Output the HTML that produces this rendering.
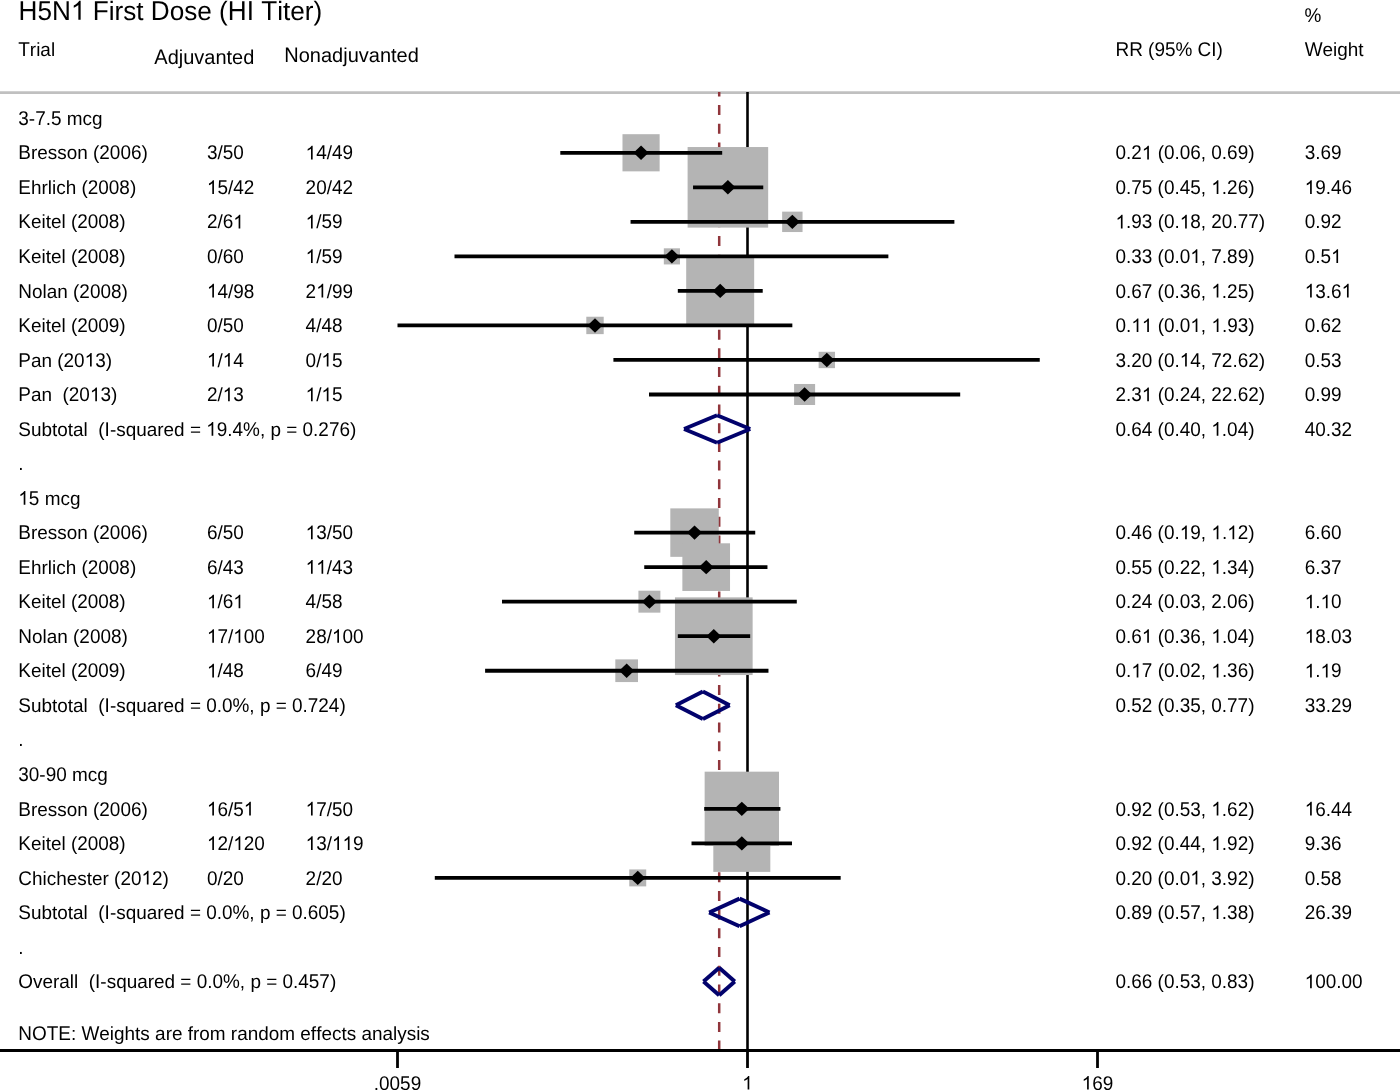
<!DOCTYPE html>
<html><head><meta charset="utf-8"><title>H5N1 First Dose (HI Titer)</title>
<style>
html,body{margin:0;padding:0;background:#fff;}
body{width:1400px;height:1090px;overflow:hidden;}
svg{display:block;will-change:transform;}
tspan.o{fill-opacity:0;}
text{font-family:"Liberation Sans",sans-serif;text-rendering:geometricPrecision;font-kerning:none;font-size:18.95px;fill:#000;white-space:pre;}
</style></head><body>
<svg width="1400" height="1090" viewBox="0 0 1400 1090">
<rect x="0" y="0" width="1400" height="1090" fill="#fff"/>

<line x1="0" y1="92.6" x2="1400" y2="92.6" stroke="#c0c0c0" stroke-width="2.6"/>
<line x1="747.5" y1="92" x2="747.5" y2="1050.5" stroke="#000" stroke-width="2.6"/>
<line x1="719.2" y1="92" x2="719.2" y2="1050" stroke="#90353b" stroke-width="2.5" stroke-dasharray="10 8.71" stroke-dashoffset="5.6"/>
<g fill="#b4b4b4">
<rect x="622.48" y="134.20" width="37.16" height="37.16"/>
<rect x="687.60" y="147.03" width="80.57" height="80.57"/>
<rect x="782.14" y="211.64" width="20.40" height="20.40"/>
<rect x="663.83" y="248.31" width="16.13" height="16.13"/>
<rect x="686.20" y="256.91" width="67.98" height="67.98"/>
<rect x="586.30" y="316.73" width="17.40" height="17.40"/>
<rect x="818.64" y="351.78" width="16.37" height="16.37"/>
<rect x="794.09" y="383.98" width="21.02" height="21.02"/>
<rect x="670.31" y="508.38" width="48.46" height="48.46"/>
<rect x="682.36" y="543.30" width="47.67" height="47.67"/>
<rect x="638.42" y="590.69" width="21.96" height="21.96"/>
<rect x="674.94" y="597.35" width="77.69" height="77.69"/>
<rect x="615.31" y="659.38" width="22.69" height="22.69"/>
<rect x="704.64" y="771.67" width="74.35" height="74.35"/>
<rect x="713.31" y="814.88" width="57.01" height="57.01"/>
<rect x="629.26" y="869.43" width="16.95" height="16.95"/>
</g>
<g stroke="#000" stroke-width="3.8">
<line x1="560.30" y1="152.78" x2="722.19" y2="152.78"/>
<line x1="693.04" y1="187.31" x2="763.26" y2="187.31"/>
<line x1="630.55" y1="221.84" x2="954.39" y2="221.84"/>
<line x1="454.50" y1="256.37" x2="888.37" y2="256.37"/>
<line x1="677.82" y1="290.90" x2="762.72" y2="290.90"/>
<line x1="397.50" y1="325.43" x2="792.34" y2="325.43"/>
<line x1="613.41" y1="359.96" x2="1039.75" y2="359.96"/>
<line x1="649.00" y1="394.49" x2="960.20" y2="394.49"/>
<line x1="634.24" y1="532.61" x2="755.23" y2="532.61"/>
<line x1="644.24" y1="567.14" x2="767.46" y2="567.14"/>
<line x1="502.00" y1="601.67" x2="796.79" y2="601.67"/>
<line x1="677.82" y1="636.20" x2="750.17" y2="636.20"/>
<line x1="485.10" y1="670.73" x2="768.47" y2="670.73"/>
<line x1="704.20" y1="808.85" x2="780.40" y2="808.85"/>
<line x1="691.51" y1="843.38" x2="791.99" y2="843.38"/>
<line x1="434.80" y1="877.91" x2="840.67" y2="877.91"/>
</g>
<g fill="#000">
<path d="M633.56 152.78L641.06 145.58L648.56 152.78L641.06 159.98Z"/>
<path d="M720.38 187.31L727.88 180.11L735.38 187.31L727.88 194.51Z"/>
<path d="M784.84 221.84L792.34 214.64L799.84 221.84L792.34 229.04Z"/>
<path d="M664.39 256.37L671.89 249.17L679.39 256.37L671.89 263.57Z"/>
<path d="M712.69 290.90L720.19 283.70L727.69 290.90L720.19 298.10Z"/>
<path d="M587.50 325.43L595.00 318.23L602.50 325.43L595.00 332.63Z"/>
<path d="M819.33 359.96L826.83 352.76L834.33 359.96L826.83 367.16Z"/>
<path d="M797.10 394.49L804.60 387.29L812.10 394.49L804.60 401.69Z"/>
<path d="M687.04 532.61L694.54 525.41L702.04 532.61L694.54 539.81Z"/>
<path d="M698.70 567.14L706.20 559.94L713.70 567.14L706.20 574.34Z"/>
<path d="M641.90 601.67L649.40 594.47L656.90 601.67L649.40 608.87Z"/>
<path d="M706.29 636.20L713.79 629.00L721.29 636.20L713.79 643.40Z"/>
<path d="M619.15 670.73L626.65 663.53L634.15 670.73L626.65 677.93Z"/>
<path d="M734.31 808.85L741.81 801.65L749.31 808.85L741.81 816.05Z"/>
<path d="M734.31 843.38L741.81 836.18L749.31 843.38L741.81 850.58Z"/>
<path d="M630.24 877.91L637.74 870.71L645.24 877.91L637.74 885.11Z"/>
</g>
<g stroke="#02026c" stroke-width="3.9" fill="none" stroke-linecap="butt">
<line x1="684.05" y1="429.02" x2="717.06" y2="415.22"/>
<line x1="717.06" y1="415.22" x2="750.17" y2="429.02"/>
<line x1="750.17" y1="429.02" x2="717.06" y2="442.82"/>
<line x1="717.06" y1="442.82" x2="684.05" y2="429.02"/>
<line x1="675.90" y1="705.26" x2="702.90" y2="691.46"/>
<line x1="702.90" y1="691.46" x2="729.67" y2="705.26"/>
<line x1="729.67" y1="705.26" x2="702.90" y2="719.06"/>
<line x1="702.90" y1="719.06" x2="675.90" y2="705.26"/>
<line x1="709.16" y1="912.44" x2="739.55" y2="898.64"/>
<line x1="739.55" y1="898.64" x2="769.47" y2="912.44"/>
<line x1="769.47" y1="912.44" x2="739.55" y2="926.24"/>
<line x1="739.55" y1="926.24" x2="709.16" y2="912.44"/>
<line x1="703.50" y1="981.50" x2="719.16" y2="967.70"/>
<line x1="719.16" y1="967.70" x2="734.79" y2="981.50"/>
<line x1="734.79" y1="981.50" x2="719.16" y2="995.30"/>
<line x1="719.16" y1="995.30" x2="703.50" y2="981.50"/>
</g>
<line x1="0" y1="1050.5" x2="1400" y2="1050.5" stroke="#000" stroke-width="2.8"/>
<line x1="397.5" y1="1050" x2="397.5" y2="1068" stroke="#000" stroke-width="2.8"/>
<line x1="747.5" y1="1050" x2="747.5" y2="1068" stroke="#000" stroke-width="2.8"/>
<line x1="1097.5" y1="1050" x2="1097.5" y2="1068" stroke="#000" stroke-width="2.8"/>
<text transform="translate(0 19.70)" style="font-size:26.15px"><tspan x="18.60" style="font-size:27.457px" textLength="66.84" lengthAdjust="spacingAndGlyphs">H5N<tspan class="o">1</tspan></tspan><tspan x="85.44"> </tspan><tspan x="92.69" style="font-size:27.457px" textLength="15.98" lengthAdjust="spacingAndGlyphs">F</tspan><tspan x="108.66" style="font-size:26.412px" textLength="42.12" lengthAdjust="spacingAndGlyphs">irst </tspan><tspan x="150.77" style="font-size:27.457px" textLength="18.89" lengthAdjust="spacingAndGlyphs">D</tspan><tspan x="169.65" style="font-size:26.412px" textLength="58.14" lengthAdjust="spacingAndGlyphs">ose (</tspan><tspan x="227.77" style="font-size:27.457px" textLength="26.16" lengthAdjust="spacingAndGlyphs">HI</tspan><tspan x="253.91"> </tspan><tspan x="261.18" style="font-size:27.457px" textLength="15.97" lengthAdjust="spacingAndGlyphs">T</tspan><tspan x="277.13" style="font-size:26.412px" textLength="45.05" lengthAdjust="spacingAndGlyphs">iter)</tspan></text>
<text transform="translate(0 21.60)"><tspan x="1304.50" style="font-size:19.898px" textLength="16.84" lengthAdjust="spacingAndGlyphs">%</tspan></text>
<text transform="translate(0 56.10)"><tspan x="18.30" style="font-size:19.898px" textLength="11.58" lengthAdjust="spacingAndGlyphs">T</tspan><tspan x="29.86" style="font-size:19.139px" textLength="25.27" lengthAdjust="spacingAndGlyphs">rial</tspan></text>
<text transform="translate(0 63.60)" style="font-size:20px"><tspan x="154.30" style="font-size:21.000px" textLength="13.34" lengthAdjust="spacingAndGlyphs">A</tspan><tspan x="167.63" style="font-size:20.200px" textLength="86.75" lengthAdjust="spacingAndGlyphs">djuvanted</tspan></text>
<text transform="translate(0 61.90)" style="font-size:20px"><tspan x="284.30" style="font-size:21.000px" textLength="14.45" lengthAdjust="spacingAndGlyphs">N</tspan><tspan x="298.74" style="font-size:20.200px" textLength="120.12" lengthAdjust="spacingAndGlyphs">onadjuvanted</tspan></text>
<text transform="translate(0 56.00)"><tspan x="1115.50" style="font-size:19.898px" textLength="27.36" lengthAdjust="spacingAndGlyphs">RR</tspan><tspan x="1142.84" style="font-size:19.139px" textLength="11.58" lengthAdjust="spacingAndGlyphs"> (</tspan><tspan x="1154.41" style="font-size:19.898px" textLength="37.92" lengthAdjust="spacingAndGlyphs">95%</tspan><tspan x="1192.31"> </tspan><tspan x="1197.58" style="font-size:19.898px" textLength="18.95" lengthAdjust="spacingAndGlyphs">CI</tspan><tspan x="1216.52" style="font-size:19.139px" textLength="6.31" lengthAdjust="spacingAndGlyphs">)</tspan></text>
<text transform="translate(0 56.00)"><tspan x="1304.70" style="font-size:19.898px" textLength="17.88" lengthAdjust="spacingAndGlyphs">W</tspan><tspan x="1322.56" style="font-size:19.139px" textLength="41.09" lengthAdjust="spacingAndGlyphs">eight</tspan></text>
<text transform="translate(0 124.90)"><tspan x="18.30" style="font-size:19.898px" textLength="10.55" lengthAdjust="spacingAndGlyphs">3</tspan><tspan x="28.83" style="font-size:19.139px" textLength="6.31" lengthAdjust="spacingAndGlyphs">-</tspan><tspan x="35.13" style="font-size:19.898px" textLength="10.55" lengthAdjust="spacingAndGlyphs">7</tspan><tspan x="45.66" style="font-size:19.139px" textLength="5.28" lengthAdjust="spacingAndGlyphs">.</tspan><tspan x="50.92" style="font-size:19.898px" textLength="10.55" lengthAdjust="spacingAndGlyphs">5</tspan><tspan x="61.46" style="font-size:19.139px" textLength="41.05" lengthAdjust="spacingAndGlyphs"> mcg</tspan></text>
<text transform="translate(0 504.73)"><tspan x="18.30" style="font-size:19.898px" textLength="21.09" lengthAdjust="spacingAndGlyphs"><tspan class="o">1</tspan>5</tspan><tspan x="39.38" style="font-size:19.139px" textLength="41.05" lengthAdjust="spacingAndGlyphs"> mcg</tspan></text>
<text transform="translate(0 780.97)"><tspan x="18.30" style="font-size:19.898px" textLength="21.08" lengthAdjust="spacingAndGlyphs">30</tspan><tspan x="39.36" style="font-size:19.139px" textLength="6.31" lengthAdjust="spacingAndGlyphs">-</tspan><tspan x="45.66" style="font-size:19.898px" textLength="21.08" lengthAdjust="spacingAndGlyphs">90</tspan><tspan x="66.72" style="font-size:19.139px" textLength="41.06" lengthAdjust="spacingAndGlyphs"> mcg</tspan></text>
<text transform="translate(0 470.20)"><tspan x="18.30" style="font-size:19.139px" textLength="5.27" lengthAdjust="spacingAndGlyphs">.</tspan></text>
<text transform="translate(0 746.44)"><tspan x="18.30" style="font-size:19.139px" textLength="5.27" lengthAdjust="spacingAndGlyphs">.</tspan></text>
<text transform="translate(0 953.62)"><tspan x="18.30" style="font-size:19.139px" textLength="5.27" lengthAdjust="spacingAndGlyphs">.</tspan></text>
<text transform="translate(0 159.43)"><tspan x="18.30" style="font-size:19.898px" textLength="12.64" lengthAdjust="spacingAndGlyphs">B</tspan><tspan x="30.93" style="font-size:19.139px" textLength="68.42" lengthAdjust="spacingAndGlyphs">resson (</tspan><tspan x="99.33" style="font-size:19.898px" textLength="42.14" lengthAdjust="spacingAndGlyphs">2006</tspan><tspan x="141.46" style="font-size:19.139px" textLength="6.33" lengthAdjust="spacingAndGlyphs">)</tspan></text>
<text transform="translate(0 159.43)"><tspan x="206.90" style="font-size:19.898px" textLength="10.55" lengthAdjust="spacingAndGlyphs">3</tspan><tspan x="217.43" style="font-size:19.139px" textLength="5.27" lengthAdjust="spacingAndGlyphs">/</tspan><tspan x="222.68" style="font-size:19.898px" textLength="21.08" lengthAdjust="spacingAndGlyphs">50</tspan></text>
<text transform="translate(0 159.43)"><tspan x="305.60" style="font-size:19.898px" textLength="21.09" lengthAdjust="spacingAndGlyphs"><tspan class="o">1</tspan>4</tspan><tspan x="326.68" style="font-size:19.139px" textLength="5.27" lengthAdjust="spacingAndGlyphs">/</tspan><tspan x="331.93" style="font-size:19.898px" textLength="21.08" lengthAdjust="spacingAndGlyphs">49</tspan></text>
<text transform="translate(0 159.43)"><tspan x="1115.50" style="font-size:19.898px" textLength="10.55" lengthAdjust="spacingAndGlyphs">0</tspan><tspan x="1126.03" style="font-size:19.139px" textLength="5.27" lengthAdjust="spacingAndGlyphs">.</tspan><tspan x="1131.28" style="font-size:19.898px" textLength="21.09" lengthAdjust="spacingAndGlyphs">2<tspan class="o">1</tspan></tspan><tspan x="1152.38" style="font-size:19.139px" textLength="11.58" lengthAdjust="spacingAndGlyphs"> (</tspan><tspan x="1163.94" style="font-size:19.898px" textLength="10.55" lengthAdjust="spacingAndGlyphs">0</tspan><tspan x="1174.47" style="font-size:19.139px" textLength="5.28" lengthAdjust="spacingAndGlyphs">.</tspan><tspan x="1179.73" style="font-size:19.898px" textLength="21.08" lengthAdjust="spacingAndGlyphs">06</tspan><tspan x="1200.80" style="font-size:19.139px" textLength="10.53" lengthAdjust="spacingAndGlyphs">, </tspan><tspan x="1211.31" style="font-size:19.898px" textLength="10.55" lengthAdjust="spacingAndGlyphs">0</tspan><tspan x="1221.84" style="font-size:19.139px" textLength="5.28" lengthAdjust="spacingAndGlyphs">.</tspan><tspan x="1227.11" style="font-size:19.898px" textLength="21.08" lengthAdjust="spacingAndGlyphs">69</tspan><tspan x="1248.17" style="font-size:19.139px" textLength="6.33" lengthAdjust="spacingAndGlyphs">)</tspan></text>
<text transform="translate(0 159.43)"><tspan x="1304.70" style="font-size:19.898px" textLength="10.55" lengthAdjust="spacingAndGlyphs">3</tspan><tspan x="1315.23" style="font-size:19.139px" textLength="5.27" lengthAdjust="spacingAndGlyphs">.</tspan><tspan x="1320.48" style="font-size:19.898px" textLength="21.08" lengthAdjust="spacingAndGlyphs">69</tspan></text>
<text transform="translate(0 193.96)"><tspan x="18.30" style="font-size:19.898px" textLength="12.64" lengthAdjust="spacingAndGlyphs">E</tspan><tspan x="30.93" style="font-size:19.139px" textLength="56.83" lengthAdjust="spacingAndGlyphs">hrlich (</tspan><tspan x="87.74" style="font-size:19.898px" textLength="42.16" lengthAdjust="spacingAndGlyphs">2008</tspan><tspan x="129.88" style="font-size:19.139px" textLength="6.31" lengthAdjust="spacingAndGlyphs">)</tspan></text>
<text transform="translate(0 193.96)"><tspan x="206.90" style="font-size:19.898px" textLength="21.09" lengthAdjust="spacingAndGlyphs"><tspan class="o">1</tspan>5</tspan><tspan x="227.98" style="font-size:19.139px" textLength="5.27" lengthAdjust="spacingAndGlyphs">/</tspan><tspan x="233.23" style="font-size:19.898px" textLength="21.08" lengthAdjust="spacingAndGlyphs">42</tspan></text>
<text transform="translate(0 193.96)"><tspan x="305.60" style="font-size:19.898px" textLength="21.08" lengthAdjust="spacingAndGlyphs">20</tspan><tspan x="326.66" style="font-size:19.139px" textLength="5.27" lengthAdjust="spacingAndGlyphs">/</tspan><tspan x="331.91" style="font-size:19.898px" textLength="21.08" lengthAdjust="spacingAndGlyphs">42</tspan></text>
<text transform="translate(0 193.96)"><tspan x="1115.50" style="font-size:19.898px" textLength="10.55" lengthAdjust="spacingAndGlyphs">0</tspan><tspan x="1126.03" style="font-size:19.139px" textLength="5.27" lengthAdjust="spacingAndGlyphs">.</tspan><tspan x="1131.28" style="font-size:19.898px" textLength="21.08" lengthAdjust="spacingAndGlyphs">75</tspan><tspan x="1152.34" style="font-size:19.139px" textLength="11.59" lengthAdjust="spacingAndGlyphs"> (</tspan><tspan x="1163.92" style="font-size:19.898px" textLength="10.55" lengthAdjust="spacingAndGlyphs">0</tspan><tspan x="1174.45" style="font-size:19.139px" textLength="5.28" lengthAdjust="spacingAndGlyphs">.</tspan><tspan x="1179.72" style="font-size:19.898px" textLength="21.08" lengthAdjust="spacingAndGlyphs">45</tspan><tspan x="1200.78" style="font-size:19.139px" textLength="10.53" lengthAdjust="spacingAndGlyphs">, </tspan><tspan x="1211.31" style="font-size:19.898px" textLength="10.55" lengthAdjust="spacingAndGlyphs"><tspan class="o">1</tspan></tspan><tspan x="1221.86" style="font-size:19.139px" textLength="5.27" lengthAdjust="spacingAndGlyphs">.</tspan><tspan x="1227.11" style="font-size:19.898px" textLength="21.08" lengthAdjust="spacingAndGlyphs">26</tspan><tspan x="1248.17" style="font-size:19.139px" textLength="6.33" lengthAdjust="spacingAndGlyphs">)</tspan></text>
<text transform="translate(0 193.96)"><tspan x="1304.70" style="font-size:19.898px" textLength="21.09" lengthAdjust="spacingAndGlyphs"><tspan class="o">1</tspan>9</tspan><tspan x="1325.78" style="font-size:19.139px" textLength="5.27" lengthAdjust="spacingAndGlyphs">.</tspan><tspan x="1331.03" style="font-size:19.898px" textLength="21.08" lengthAdjust="spacingAndGlyphs">46</tspan></text>
<text transform="translate(0 228.49)"><tspan x="18.30" style="font-size:19.898px" textLength="12.64" lengthAdjust="spacingAndGlyphs">K</tspan><tspan x="30.93" style="font-size:19.139px" textLength="46.33" lengthAdjust="spacingAndGlyphs">eitel (</tspan><tspan x="77.24" style="font-size:19.898px" textLength="42.14" lengthAdjust="spacingAndGlyphs">2008</tspan><tspan x="119.36" style="font-size:19.139px" textLength="6.31" lengthAdjust="spacingAndGlyphs">)</tspan></text>
<text transform="translate(0 228.49)"><tspan x="206.90" style="font-size:19.898px" textLength="10.55" lengthAdjust="spacingAndGlyphs">2</tspan><tspan x="217.43" style="font-size:19.139px" textLength="5.27" lengthAdjust="spacingAndGlyphs">/</tspan><tspan x="222.68" style="font-size:19.898px" textLength="21.09" lengthAdjust="spacingAndGlyphs">6<tspan class="o">1</tspan></tspan></text>
<text transform="translate(0 228.49)"><tspan x="305.60" style="font-size:19.898px" textLength="10.55" lengthAdjust="spacingAndGlyphs"><tspan class="o">1</tspan></tspan><tspan x="316.15" style="font-size:19.139px" textLength="5.27" lengthAdjust="spacingAndGlyphs">/</tspan><tspan x="321.40" style="font-size:19.898px" textLength="21.08" lengthAdjust="spacingAndGlyphs">59</tspan></text>
<text transform="translate(0 228.49)"><tspan x="1115.50" style="font-size:19.898px" textLength="10.55" lengthAdjust="spacingAndGlyphs"><tspan class="o">1</tspan></tspan><tspan x="1126.05" style="font-size:19.139px" textLength="5.27" lengthAdjust="spacingAndGlyphs">.</tspan><tspan x="1131.30" style="font-size:19.898px" textLength="21.08" lengthAdjust="spacingAndGlyphs">93</tspan><tspan x="1152.36" style="font-size:19.139px" textLength="11.59" lengthAdjust="spacingAndGlyphs"> (</tspan><tspan x="1163.94" style="font-size:19.898px" textLength="10.55" lengthAdjust="spacingAndGlyphs">0</tspan><tspan x="1174.47" style="font-size:19.139px" textLength="5.27" lengthAdjust="spacingAndGlyphs">.</tspan><tspan x="1179.73" style="font-size:19.898px" textLength="21.09" lengthAdjust="spacingAndGlyphs"><tspan class="o">1</tspan>8</tspan><tspan x="1200.81" style="font-size:19.139px" textLength="10.53" lengthAdjust="spacingAndGlyphs">, </tspan><tspan x="1211.33" style="font-size:19.898px" textLength="21.08" lengthAdjust="spacingAndGlyphs">20</tspan><tspan x="1232.39" style="font-size:19.139px" textLength="5.28" lengthAdjust="spacingAndGlyphs">.</tspan><tspan x="1237.66" style="font-size:19.898px" textLength="21.08" lengthAdjust="spacingAndGlyphs">77</tspan><tspan x="1258.72" style="font-size:19.139px" textLength="6.33" lengthAdjust="spacingAndGlyphs">)</tspan></text>
<text transform="translate(0 228.49)"><tspan x="1304.70" style="font-size:19.898px" textLength="10.55" lengthAdjust="spacingAndGlyphs">0</tspan><tspan x="1315.23" style="font-size:19.139px" textLength="5.27" lengthAdjust="spacingAndGlyphs">.</tspan><tspan x="1320.48" style="font-size:19.898px" textLength="21.08" lengthAdjust="spacingAndGlyphs">92</tspan></text>
<text transform="translate(0 263.02)"><tspan x="18.30" style="font-size:19.898px" textLength="12.64" lengthAdjust="spacingAndGlyphs">K</tspan><tspan x="30.93" style="font-size:19.139px" textLength="46.33" lengthAdjust="spacingAndGlyphs">eitel (</tspan><tspan x="77.24" style="font-size:19.898px" textLength="42.14" lengthAdjust="spacingAndGlyphs">2008</tspan><tspan x="119.36" style="font-size:19.139px" textLength="6.31" lengthAdjust="spacingAndGlyphs">)</tspan></text>
<text transform="translate(0 263.02)"><tspan x="206.90" style="font-size:19.898px" textLength="10.55" lengthAdjust="spacingAndGlyphs">0</tspan><tspan x="217.43" style="font-size:19.139px" textLength="5.27" lengthAdjust="spacingAndGlyphs">/</tspan><tspan x="222.68" style="font-size:19.898px" textLength="21.08" lengthAdjust="spacingAndGlyphs">60</tspan></text>
<text transform="translate(0 263.02)"><tspan x="305.60" style="font-size:19.898px" textLength="10.55" lengthAdjust="spacingAndGlyphs"><tspan class="o">1</tspan></tspan><tspan x="316.15" style="font-size:19.139px" textLength="5.27" lengthAdjust="spacingAndGlyphs">/</tspan><tspan x="321.40" style="font-size:19.898px" textLength="21.08" lengthAdjust="spacingAndGlyphs">59</tspan></text>
<text transform="translate(0 263.02)"><tspan x="1115.50" style="font-size:19.898px" textLength="10.55" lengthAdjust="spacingAndGlyphs">0</tspan><tspan x="1126.03" style="font-size:19.139px" textLength="5.27" lengthAdjust="spacingAndGlyphs">.</tspan><tspan x="1131.28" style="font-size:19.898px" textLength="21.08" lengthAdjust="spacingAndGlyphs">33</tspan><tspan x="1152.34" style="font-size:19.139px" textLength="11.59" lengthAdjust="spacingAndGlyphs"> (</tspan><tspan x="1163.92" style="font-size:19.898px" textLength="10.55" lengthAdjust="spacingAndGlyphs">0</tspan><tspan x="1174.45" style="font-size:19.139px" textLength="5.28" lengthAdjust="spacingAndGlyphs">.</tspan><tspan x="1179.72" style="font-size:19.898px" textLength="21.09" lengthAdjust="spacingAndGlyphs">0<tspan class="o">1</tspan></tspan><tspan x="1200.81" style="font-size:19.139px" textLength="10.53" lengthAdjust="spacingAndGlyphs">, </tspan><tspan x="1211.33" style="font-size:19.898px" textLength="10.55" lengthAdjust="spacingAndGlyphs">7</tspan><tspan x="1221.86" style="font-size:19.139px" textLength="5.28" lengthAdjust="spacingAndGlyphs">.</tspan><tspan x="1227.12" style="font-size:19.898px" textLength="21.08" lengthAdjust="spacingAndGlyphs">89</tspan><tspan x="1248.19" style="font-size:19.139px" textLength="6.31" lengthAdjust="spacingAndGlyphs">)</tspan></text>
<text transform="translate(0 263.02)"><tspan x="1304.70" style="font-size:19.898px" textLength="10.55" lengthAdjust="spacingAndGlyphs">0</tspan><tspan x="1315.23" style="font-size:19.139px" textLength="5.27" lengthAdjust="spacingAndGlyphs">.</tspan><tspan x="1320.48" style="font-size:19.898px" textLength="21.09" lengthAdjust="spacingAndGlyphs">5<tspan class="o">1</tspan></tspan></text>
<text transform="translate(0 297.55)"><tspan x="18.30" style="font-size:19.898px" textLength="13.69" lengthAdjust="spacingAndGlyphs">N</tspan><tspan x="31.97" style="font-size:19.139px" textLength="47.39" lengthAdjust="spacingAndGlyphs">olan (</tspan><tspan x="79.35" style="font-size:19.898px" textLength="42.14" lengthAdjust="spacingAndGlyphs">2008</tspan><tspan x="121.47" style="font-size:19.139px" textLength="6.31" lengthAdjust="spacingAndGlyphs">)</tspan></text>
<text transform="translate(0 297.55)"><tspan x="206.90" style="font-size:19.898px" textLength="21.09" lengthAdjust="spacingAndGlyphs"><tspan class="o">1</tspan>4</tspan><tspan x="227.98" style="font-size:19.139px" textLength="5.27" lengthAdjust="spacingAndGlyphs">/</tspan><tspan x="233.23" style="font-size:19.898px" textLength="21.08" lengthAdjust="spacingAndGlyphs">98</tspan></text>
<text transform="translate(0 297.55)"><tspan x="305.60" style="font-size:19.898px" textLength="21.09" lengthAdjust="spacingAndGlyphs">2<tspan class="o">1</tspan></tspan><tspan x="326.69" style="font-size:19.139px" textLength="5.27" lengthAdjust="spacingAndGlyphs">/</tspan><tspan x="331.94" style="font-size:19.898px" textLength="21.08" lengthAdjust="spacingAndGlyphs">99</tspan></text>
<text transform="translate(0 297.55)"><tspan x="1115.50" style="font-size:19.898px" textLength="10.55" lengthAdjust="spacingAndGlyphs">0</tspan><tspan x="1126.03" style="font-size:19.139px" textLength="5.27" lengthAdjust="spacingAndGlyphs">.</tspan><tspan x="1131.28" style="font-size:19.898px" textLength="21.08" lengthAdjust="spacingAndGlyphs">67</tspan><tspan x="1152.34" style="font-size:19.139px" textLength="11.59" lengthAdjust="spacingAndGlyphs"> (</tspan><tspan x="1163.92" style="font-size:19.898px" textLength="10.55" lengthAdjust="spacingAndGlyphs">0</tspan><tspan x="1174.45" style="font-size:19.139px" textLength="5.28" lengthAdjust="spacingAndGlyphs">.</tspan><tspan x="1179.72" style="font-size:19.898px" textLength="21.08" lengthAdjust="spacingAndGlyphs">36</tspan><tspan x="1200.78" style="font-size:19.139px" textLength="10.53" lengthAdjust="spacingAndGlyphs">, </tspan><tspan x="1211.31" style="font-size:19.898px" textLength="10.55" lengthAdjust="spacingAndGlyphs"><tspan class="o">1</tspan></tspan><tspan x="1221.86" style="font-size:19.139px" textLength="5.27" lengthAdjust="spacingAndGlyphs">.</tspan><tspan x="1227.11" style="font-size:19.898px" textLength="21.08" lengthAdjust="spacingAndGlyphs">25</tspan><tspan x="1248.17" style="font-size:19.139px" textLength="6.33" lengthAdjust="spacingAndGlyphs">)</tspan></text>
<text transform="translate(0 297.55)"><tspan x="1304.70" style="font-size:19.898px" textLength="21.09" lengthAdjust="spacingAndGlyphs"><tspan class="o">1</tspan>3</tspan><tspan x="1325.78" style="font-size:19.139px" textLength="5.27" lengthAdjust="spacingAndGlyphs">.</tspan><tspan x="1331.03" style="font-size:19.898px" textLength="21.09" lengthAdjust="spacingAndGlyphs">6<tspan class="o">1</tspan></tspan></text>
<text transform="translate(0 332.08)"><tspan x="18.30" style="font-size:19.898px" textLength="12.64" lengthAdjust="spacingAndGlyphs">K</tspan><tspan x="30.93" style="font-size:19.139px" textLength="46.33" lengthAdjust="spacingAndGlyphs">eitel (</tspan><tspan x="77.24" style="font-size:19.898px" textLength="42.14" lengthAdjust="spacingAndGlyphs">2009</tspan><tspan x="119.36" style="font-size:19.139px" textLength="6.31" lengthAdjust="spacingAndGlyphs">)</tspan></text>
<text transform="translate(0 332.08)"><tspan x="206.90" style="font-size:19.898px" textLength="10.55" lengthAdjust="spacingAndGlyphs">0</tspan><tspan x="217.43" style="font-size:19.139px" textLength="5.27" lengthAdjust="spacingAndGlyphs">/</tspan><tspan x="222.68" style="font-size:19.898px" textLength="21.08" lengthAdjust="spacingAndGlyphs">50</tspan></text>
<text transform="translate(0 332.08)"><tspan x="305.60" style="font-size:19.898px" textLength="10.55" lengthAdjust="spacingAndGlyphs">4</tspan><tspan x="316.13" style="font-size:19.139px" textLength="5.27" lengthAdjust="spacingAndGlyphs">/</tspan><tspan x="321.38" style="font-size:19.898px" textLength="21.08" lengthAdjust="spacingAndGlyphs">48</tspan></text>
<text transform="translate(0 332.08)"><tspan x="1115.50" style="font-size:19.898px" textLength="10.55" lengthAdjust="spacingAndGlyphs">0</tspan><tspan x="1126.03" style="font-size:19.139px" textLength="5.27" lengthAdjust="spacingAndGlyphs">.</tspan><tspan x="1131.30" style="font-size:19.898px" textLength="21.09" lengthAdjust="spacingAndGlyphs"><tspan class="o">1</tspan><tspan class="o">1</tspan></tspan><tspan x="1152.39" style="font-size:19.139px" textLength="11.58" lengthAdjust="spacingAndGlyphs"> (</tspan><tspan x="1163.95" style="font-size:19.898px" textLength="10.55" lengthAdjust="spacingAndGlyphs">0</tspan><tspan x="1174.48" style="font-size:19.139px" textLength="5.28" lengthAdjust="spacingAndGlyphs">.</tspan><tspan x="1179.75" style="font-size:19.898px" textLength="21.09" lengthAdjust="spacingAndGlyphs">0<tspan class="o">1</tspan></tspan><tspan x="1200.84" style="font-size:19.139px" textLength="10.53" lengthAdjust="spacingAndGlyphs">, </tspan><tspan x="1211.38" style="font-size:19.898px" textLength="10.55" lengthAdjust="spacingAndGlyphs"><tspan class="o">1</tspan></tspan><tspan x="1221.92" style="font-size:19.139px" textLength="5.27" lengthAdjust="spacingAndGlyphs">.</tspan><tspan x="1227.17" style="font-size:19.898px" textLength="21.08" lengthAdjust="spacingAndGlyphs">93</tspan><tspan x="1248.23" style="font-size:19.139px" textLength="6.33" lengthAdjust="spacingAndGlyphs">)</tspan></text>
<text transform="translate(0 332.08)"><tspan x="1304.70" style="font-size:19.898px" textLength="10.55" lengthAdjust="spacingAndGlyphs">0</tspan><tspan x="1315.23" style="font-size:19.139px" textLength="5.27" lengthAdjust="spacingAndGlyphs">.</tspan><tspan x="1320.48" style="font-size:19.898px" textLength="21.08" lengthAdjust="spacingAndGlyphs">62</tspan></text>
<text transform="translate(0 366.61)"><tspan x="18.30" style="font-size:19.898px" textLength="12.64" lengthAdjust="spacingAndGlyphs">P</tspan><tspan x="30.93" style="font-size:19.139px" textLength="32.64" lengthAdjust="spacingAndGlyphs">an (</tspan><tspan x="63.55" style="font-size:19.898px" textLength="42.17" lengthAdjust="spacingAndGlyphs">20<tspan class="o">1</tspan>3</tspan><tspan x="105.71" style="font-size:19.139px" textLength="6.31" lengthAdjust="spacingAndGlyphs">)</tspan></text>
<text transform="translate(0 366.61)"><tspan x="206.90" style="font-size:19.898px" textLength="10.55" lengthAdjust="spacingAndGlyphs"><tspan class="o">1</tspan></tspan><tspan x="217.45" style="font-size:19.139px" textLength="5.27" lengthAdjust="spacingAndGlyphs">/</tspan><tspan x="222.71" style="font-size:19.898px" textLength="21.09" lengthAdjust="spacingAndGlyphs"><tspan class="o">1</tspan>4</tspan></text>
<text transform="translate(0 366.61)"><tspan x="305.60" style="font-size:19.898px" textLength="10.55" lengthAdjust="spacingAndGlyphs">0</tspan><tspan x="316.13" style="font-size:19.139px" textLength="5.27" lengthAdjust="spacingAndGlyphs">/</tspan><tspan x="321.40" style="font-size:19.898px" textLength="21.09" lengthAdjust="spacingAndGlyphs"><tspan class="o">1</tspan>5</tspan></text>
<text transform="translate(0 366.61)"><tspan x="1115.50" style="font-size:19.898px" textLength="10.55" lengthAdjust="spacingAndGlyphs">3</tspan><tspan x="1126.03" style="font-size:19.139px" textLength="5.27" lengthAdjust="spacingAndGlyphs">.</tspan><tspan x="1131.28" style="font-size:19.898px" textLength="21.08" lengthAdjust="spacingAndGlyphs">20</tspan><tspan x="1152.34" style="font-size:19.139px" textLength="11.59" lengthAdjust="spacingAndGlyphs"> (</tspan><tspan x="1163.92" style="font-size:19.898px" textLength="10.55" lengthAdjust="spacingAndGlyphs">0</tspan><tspan x="1174.45" style="font-size:19.139px" textLength="5.28" lengthAdjust="spacingAndGlyphs">.</tspan><tspan x="1179.73" style="font-size:19.898px" textLength="21.09" lengthAdjust="spacingAndGlyphs"><tspan class="o">1</tspan>4</tspan><tspan x="1200.81" style="font-size:19.139px" textLength="10.53" lengthAdjust="spacingAndGlyphs">, </tspan><tspan x="1211.33" style="font-size:19.898px" textLength="21.08" lengthAdjust="spacingAndGlyphs">72</tspan><tspan x="1232.39" style="font-size:19.139px" textLength="5.28" lengthAdjust="spacingAndGlyphs">.</tspan><tspan x="1237.66" style="font-size:19.898px" textLength="21.08" lengthAdjust="spacingAndGlyphs">62</tspan><tspan x="1258.72" style="font-size:19.139px" textLength="6.33" lengthAdjust="spacingAndGlyphs">)</tspan></text>
<text transform="translate(0 366.61)"><tspan x="1304.70" style="font-size:19.898px" textLength="10.55" lengthAdjust="spacingAndGlyphs">0</tspan><tspan x="1315.23" style="font-size:19.139px" textLength="5.27" lengthAdjust="spacingAndGlyphs">.</tspan><tspan x="1320.48" style="font-size:19.898px" textLength="21.08" lengthAdjust="spacingAndGlyphs">53</tspan></text>
<text transform="translate(0 401.14)"><tspan x="18.30" style="font-size:19.898px" textLength="12.64" lengthAdjust="spacingAndGlyphs">P</tspan><tspan x="30.93" style="font-size:19.139px" textLength="37.91" lengthAdjust="spacingAndGlyphs">an  (</tspan><tspan x="68.82" style="font-size:19.898px" textLength="42.17" lengthAdjust="spacingAndGlyphs">20<tspan class="o">1</tspan>3</tspan><tspan x="110.97" style="font-size:19.139px" textLength="6.31" lengthAdjust="spacingAndGlyphs">)</tspan></text>
<text transform="translate(0 401.14)"><tspan x="206.90" style="font-size:19.898px" textLength="10.55" lengthAdjust="spacingAndGlyphs">2</tspan><tspan x="217.43" style="font-size:19.139px" textLength="5.27" lengthAdjust="spacingAndGlyphs">/</tspan><tspan x="222.70" style="font-size:19.898px" textLength="21.09" lengthAdjust="spacingAndGlyphs"><tspan class="o">1</tspan>3</tspan></text>
<text transform="translate(0 401.14)"><tspan x="305.60" style="font-size:19.898px" textLength="10.55" lengthAdjust="spacingAndGlyphs"><tspan class="o">1</tspan></tspan><tspan x="316.15" style="font-size:19.139px" textLength="5.27" lengthAdjust="spacingAndGlyphs">/</tspan><tspan x="321.41" style="font-size:19.898px" textLength="21.09" lengthAdjust="spacingAndGlyphs"><tspan class="o">1</tspan>5</tspan></text>
<text transform="translate(0 401.14)"><tspan x="1115.50" style="font-size:19.898px" textLength="10.55" lengthAdjust="spacingAndGlyphs">2</tspan><tspan x="1126.03" style="font-size:19.139px" textLength="5.27" lengthAdjust="spacingAndGlyphs">.</tspan><tspan x="1131.28" style="font-size:19.898px" textLength="21.09" lengthAdjust="spacingAndGlyphs">3<tspan class="o">1</tspan></tspan><tspan x="1152.38" style="font-size:19.139px" textLength="11.58" lengthAdjust="spacingAndGlyphs"> (</tspan><tspan x="1163.94" style="font-size:19.898px" textLength="10.55" lengthAdjust="spacingAndGlyphs">0</tspan><tspan x="1174.47" style="font-size:19.139px" textLength="5.28" lengthAdjust="spacingAndGlyphs">.</tspan><tspan x="1179.73" style="font-size:19.898px" textLength="21.08" lengthAdjust="spacingAndGlyphs">24</tspan><tspan x="1200.80" style="font-size:19.139px" textLength="10.53" lengthAdjust="spacingAndGlyphs">, </tspan><tspan x="1211.31" style="font-size:19.898px" textLength="21.08" lengthAdjust="spacingAndGlyphs">22</tspan><tspan x="1232.38" style="font-size:19.139px" textLength="5.28" lengthAdjust="spacingAndGlyphs">.</tspan><tspan x="1237.64" style="font-size:19.898px" textLength="21.08" lengthAdjust="spacingAndGlyphs">62</tspan><tspan x="1258.70" style="font-size:19.139px" textLength="6.33" lengthAdjust="spacingAndGlyphs">)</tspan></text>
<text transform="translate(0 401.14)"><tspan x="1304.70" style="font-size:19.898px" textLength="10.55" lengthAdjust="spacingAndGlyphs">0</tspan><tspan x="1315.23" style="font-size:19.139px" textLength="5.27" lengthAdjust="spacingAndGlyphs">.</tspan><tspan x="1320.48" style="font-size:19.898px" textLength="21.08" lengthAdjust="spacingAndGlyphs">99</tspan></text>
<text transform="translate(0 539.26)"><tspan x="18.30" style="font-size:19.898px" textLength="12.64" lengthAdjust="spacingAndGlyphs">B</tspan><tspan x="30.93" style="font-size:19.139px" textLength="68.42" lengthAdjust="spacingAndGlyphs">resson (</tspan><tspan x="99.33" style="font-size:19.898px" textLength="42.14" lengthAdjust="spacingAndGlyphs">2006</tspan><tspan x="141.46" style="font-size:19.139px" textLength="6.33" lengthAdjust="spacingAndGlyphs">)</tspan></text>
<text transform="translate(0 539.26)"><tspan x="206.90" style="font-size:19.898px" textLength="10.55" lengthAdjust="spacingAndGlyphs">6</tspan><tspan x="217.43" style="font-size:19.139px" textLength="5.27" lengthAdjust="spacingAndGlyphs">/</tspan><tspan x="222.68" style="font-size:19.898px" textLength="21.08" lengthAdjust="spacingAndGlyphs">50</tspan></text>
<text transform="translate(0 539.26)"><tspan x="305.60" style="font-size:19.898px" textLength="21.09" lengthAdjust="spacingAndGlyphs"><tspan class="o">1</tspan>3</tspan><tspan x="326.68" style="font-size:19.139px" textLength="5.27" lengthAdjust="spacingAndGlyphs">/</tspan><tspan x="331.93" style="font-size:19.898px" textLength="21.08" lengthAdjust="spacingAndGlyphs">50</tspan></text>
<text transform="translate(0 539.26)"><tspan x="1115.50" style="font-size:19.898px" textLength="10.55" lengthAdjust="spacingAndGlyphs">0</tspan><tspan x="1126.03" style="font-size:19.139px" textLength="5.27" lengthAdjust="spacingAndGlyphs">.</tspan><tspan x="1131.28" style="font-size:19.898px" textLength="21.08" lengthAdjust="spacingAndGlyphs">46</tspan><tspan x="1152.34" style="font-size:19.139px" textLength="11.59" lengthAdjust="spacingAndGlyphs"> (</tspan><tspan x="1163.92" style="font-size:19.898px" textLength="10.55" lengthAdjust="spacingAndGlyphs">0</tspan><tspan x="1174.45" style="font-size:19.139px" textLength="5.28" lengthAdjust="spacingAndGlyphs">.</tspan><tspan x="1179.73" style="font-size:19.898px" textLength="21.09" lengthAdjust="spacingAndGlyphs"><tspan class="o">1</tspan>9</tspan><tspan x="1200.81" style="font-size:19.139px" textLength="10.53" lengthAdjust="spacingAndGlyphs">, </tspan><tspan x="1211.34" style="font-size:19.898px" textLength="10.55" lengthAdjust="spacingAndGlyphs"><tspan class="o">1</tspan></tspan><tspan x="1221.89" style="font-size:19.139px" textLength="5.27" lengthAdjust="spacingAndGlyphs">.</tspan><tspan x="1227.16" style="font-size:19.898px" textLength="21.09" lengthAdjust="spacingAndGlyphs"><tspan class="o">1</tspan>2</tspan><tspan x="1248.23" style="font-size:19.139px" textLength="6.31" lengthAdjust="spacingAndGlyphs">)</tspan></text>
<text transform="translate(0 539.26)"><tspan x="1304.70" style="font-size:19.898px" textLength="10.55" lengthAdjust="spacingAndGlyphs">6</tspan><tspan x="1315.23" style="font-size:19.139px" textLength="5.27" lengthAdjust="spacingAndGlyphs">.</tspan><tspan x="1320.48" style="font-size:19.898px" textLength="21.08" lengthAdjust="spacingAndGlyphs">60</tspan></text>
<text transform="translate(0 573.79)"><tspan x="18.30" style="font-size:19.898px" textLength="12.64" lengthAdjust="spacingAndGlyphs">E</tspan><tspan x="30.93" style="font-size:19.139px" textLength="56.83" lengthAdjust="spacingAndGlyphs">hrlich (</tspan><tspan x="87.74" style="font-size:19.898px" textLength="42.16" lengthAdjust="spacingAndGlyphs">2008</tspan><tspan x="129.88" style="font-size:19.139px" textLength="6.31" lengthAdjust="spacingAndGlyphs">)</tspan></text>
<text transform="translate(0 573.79)"><tspan x="206.90" style="font-size:19.898px" textLength="10.55" lengthAdjust="spacingAndGlyphs">6</tspan><tspan x="217.43" style="font-size:19.139px" textLength="5.27" lengthAdjust="spacingAndGlyphs">/</tspan><tspan x="222.68" style="font-size:19.898px" textLength="21.08" lengthAdjust="spacingAndGlyphs">43</tspan></text>
<text transform="translate(0 573.79)"><tspan x="305.60" style="font-size:19.898px" textLength="21.09" lengthAdjust="spacingAndGlyphs"><tspan class="o">1</tspan><tspan class="o">1</tspan></tspan><tspan x="326.69" style="font-size:19.139px" textLength="5.27" lengthAdjust="spacingAndGlyphs">/</tspan><tspan x="331.94" style="font-size:19.898px" textLength="21.08" lengthAdjust="spacingAndGlyphs">43</tspan></text>
<text transform="translate(0 573.79)"><tspan x="1115.50" style="font-size:19.898px" textLength="10.55" lengthAdjust="spacingAndGlyphs">0</tspan><tspan x="1126.03" style="font-size:19.139px" textLength="5.27" lengthAdjust="spacingAndGlyphs">.</tspan><tspan x="1131.28" style="font-size:19.898px" textLength="21.08" lengthAdjust="spacingAndGlyphs">55</tspan><tspan x="1152.34" style="font-size:19.139px" textLength="11.59" lengthAdjust="spacingAndGlyphs"> (</tspan><tspan x="1163.92" style="font-size:19.898px" textLength="10.55" lengthAdjust="spacingAndGlyphs">0</tspan><tspan x="1174.45" style="font-size:19.139px" textLength="5.28" lengthAdjust="spacingAndGlyphs">.</tspan><tspan x="1179.72" style="font-size:19.898px" textLength="21.08" lengthAdjust="spacingAndGlyphs">22</tspan><tspan x="1200.78" style="font-size:19.139px" textLength="10.53" lengthAdjust="spacingAndGlyphs">, </tspan><tspan x="1211.31" style="font-size:19.898px" textLength="10.55" lengthAdjust="spacingAndGlyphs"><tspan class="o">1</tspan></tspan><tspan x="1221.86" style="font-size:19.139px" textLength="5.27" lengthAdjust="spacingAndGlyphs">.</tspan><tspan x="1227.11" style="font-size:19.898px" textLength="21.08" lengthAdjust="spacingAndGlyphs">34</tspan><tspan x="1248.17" style="font-size:19.139px" textLength="6.33" lengthAdjust="spacingAndGlyphs">)</tspan></text>
<text transform="translate(0 573.79)"><tspan x="1304.70" style="font-size:19.898px" textLength="10.55" lengthAdjust="spacingAndGlyphs">6</tspan><tspan x="1315.23" style="font-size:19.139px" textLength="5.27" lengthAdjust="spacingAndGlyphs">.</tspan><tspan x="1320.48" style="font-size:19.898px" textLength="21.08" lengthAdjust="spacingAndGlyphs">37</tspan></text>
<text transform="translate(0 608.32)"><tspan x="18.30" style="font-size:19.898px" textLength="12.64" lengthAdjust="spacingAndGlyphs">K</tspan><tspan x="30.93" style="font-size:19.139px" textLength="46.33" lengthAdjust="spacingAndGlyphs">eitel (</tspan><tspan x="77.24" style="font-size:19.898px" textLength="42.14" lengthAdjust="spacingAndGlyphs">2008</tspan><tspan x="119.36" style="font-size:19.139px" textLength="6.31" lengthAdjust="spacingAndGlyphs">)</tspan></text>
<text transform="translate(0 608.32)"><tspan x="206.90" style="font-size:19.898px" textLength="10.55" lengthAdjust="spacingAndGlyphs"><tspan class="o">1</tspan></tspan><tspan x="217.45" style="font-size:19.139px" textLength="5.27" lengthAdjust="spacingAndGlyphs">/</tspan><tspan x="222.70" style="font-size:19.898px" textLength="21.09" lengthAdjust="spacingAndGlyphs">6<tspan class="o">1</tspan></tspan></text>
<text transform="translate(0 608.32)"><tspan x="305.60" style="font-size:19.898px" textLength="10.55" lengthAdjust="spacingAndGlyphs">4</tspan><tspan x="316.13" style="font-size:19.139px" textLength="5.27" lengthAdjust="spacingAndGlyphs">/</tspan><tspan x="321.38" style="font-size:19.898px" textLength="21.08" lengthAdjust="spacingAndGlyphs">58</tspan></text>
<text transform="translate(0 608.32)"><tspan x="1115.50" style="font-size:19.898px" textLength="10.55" lengthAdjust="spacingAndGlyphs">0</tspan><tspan x="1126.03" style="font-size:19.139px" textLength="5.27" lengthAdjust="spacingAndGlyphs">.</tspan><tspan x="1131.28" style="font-size:19.898px" textLength="21.08" lengthAdjust="spacingAndGlyphs">24</tspan><tspan x="1152.34" style="font-size:19.139px" textLength="11.59" lengthAdjust="spacingAndGlyphs"> (</tspan><tspan x="1163.92" style="font-size:19.898px" textLength="10.55" lengthAdjust="spacingAndGlyphs">0</tspan><tspan x="1174.45" style="font-size:19.139px" textLength="5.28" lengthAdjust="spacingAndGlyphs">.</tspan><tspan x="1179.72" style="font-size:19.898px" textLength="21.08" lengthAdjust="spacingAndGlyphs">03</tspan><tspan x="1200.78" style="font-size:19.139px" textLength="10.53" lengthAdjust="spacingAndGlyphs">, </tspan><tspan x="1211.30" style="font-size:19.898px" textLength="10.55" lengthAdjust="spacingAndGlyphs">2</tspan><tspan x="1221.83" style="font-size:19.139px" textLength="5.28" lengthAdjust="spacingAndGlyphs">.</tspan><tspan x="1227.09" style="font-size:19.898px" textLength="21.08" lengthAdjust="spacingAndGlyphs">06</tspan><tspan x="1248.16" style="font-size:19.139px" textLength="6.33" lengthAdjust="spacingAndGlyphs">)</tspan></text>
<text transform="translate(0 608.32)"><tspan x="1304.70" style="font-size:19.898px" textLength="10.55" lengthAdjust="spacingAndGlyphs"><tspan class="o">1</tspan></tspan><tspan x="1315.25" style="font-size:19.139px" textLength="5.27" lengthAdjust="spacingAndGlyphs">.</tspan><tspan x="1320.51" style="font-size:19.898px" textLength="21.09" lengthAdjust="spacingAndGlyphs"><tspan class="o">1</tspan>0</tspan></text>
<text transform="translate(0 642.85)"><tspan x="18.30" style="font-size:19.898px" textLength="13.69" lengthAdjust="spacingAndGlyphs">N</tspan><tspan x="31.97" style="font-size:19.139px" textLength="47.39" lengthAdjust="spacingAndGlyphs">olan (</tspan><tspan x="79.35" style="font-size:19.898px" textLength="42.14" lengthAdjust="spacingAndGlyphs">2008</tspan><tspan x="121.47" style="font-size:19.139px" textLength="6.31" lengthAdjust="spacingAndGlyphs">)</tspan></text>
<text transform="translate(0 642.85)"><tspan x="206.90" style="font-size:19.898px" textLength="21.09" lengthAdjust="spacingAndGlyphs"><tspan class="o">1</tspan>7</tspan><tspan x="227.98" style="font-size:19.139px" textLength="5.27" lengthAdjust="spacingAndGlyphs">/</tspan><tspan x="233.24" style="font-size:19.898px" textLength="31.62" lengthAdjust="spacingAndGlyphs"><tspan class="o">1</tspan>00</tspan></text>
<text transform="translate(0 642.85)"><tspan x="305.60" style="font-size:19.898px" textLength="21.08" lengthAdjust="spacingAndGlyphs">28</tspan><tspan x="326.66" style="font-size:19.139px" textLength="5.27" lengthAdjust="spacingAndGlyphs">/</tspan><tspan x="331.93" style="font-size:19.898px" textLength="31.62" lengthAdjust="spacingAndGlyphs"><tspan class="o">1</tspan>00</tspan></text>
<text transform="translate(0 642.85)"><tspan x="1115.50" style="font-size:19.898px" textLength="10.55" lengthAdjust="spacingAndGlyphs">0</tspan><tspan x="1126.03" style="font-size:19.139px" textLength="5.27" lengthAdjust="spacingAndGlyphs">.</tspan><tspan x="1131.28" style="font-size:19.898px" textLength="21.09" lengthAdjust="spacingAndGlyphs">6<tspan class="o">1</tspan></tspan><tspan x="1152.38" style="font-size:19.139px" textLength="11.58" lengthAdjust="spacingAndGlyphs"> (</tspan><tspan x="1163.94" style="font-size:19.898px" textLength="10.55" lengthAdjust="spacingAndGlyphs">0</tspan><tspan x="1174.47" style="font-size:19.139px" textLength="5.28" lengthAdjust="spacingAndGlyphs">.</tspan><tspan x="1179.73" style="font-size:19.898px" textLength="21.08" lengthAdjust="spacingAndGlyphs">36</tspan><tspan x="1200.80" style="font-size:19.139px" textLength="10.53" lengthAdjust="spacingAndGlyphs">, </tspan><tspan x="1211.33" style="font-size:19.898px" textLength="10.55" lengthAdjust="spacingAndGlyphs"><tspan class="o">1</tspan></tspan><tspan x="1221.88" style="font-size:19.139px" textLength="5.27" lengthAdjust="spacingAndGlyphs">.</tspan><tspan x="1227.12" style="font-size:19.898px" textLength="21.08" lengthAdjust="spacingAndGlyphs">04</tspan><tspan x="1248.19" style="font-size:19.139px" textLength="6.33" lengthAdjust="spacingAndGlyphs">)</tspan></text>
<text transform="translate(0 642.85)"><tspan x="1304.70" style="font-size:19.898px" textLength="21.09" lengthAdjust="spacingAndGlyphs"><tspan class="o">1</tspan>8</tspan><tspan x="1325.78" style="font-size:19.139px" textLength="5.27" lengthAdjust="spacingAndGlyphs">.</tspan><tspan x="1331.03" style="font-size:19.898px" textLength="21.08" lengthAdjust="spacingAndGlyphs">03</tspan></text>
<text transform="translate(0 677.38)"><tspan x="18.30" style="font-size:19.898px" textLength="12.64" lengthAdjust="spacingAndGlyphs">K</tspan><tspan x="30.93" style="font-size:19.139px" textLength="46.33" lengthAdjust="spacingAndGlyphs">eitel (</tspan><tspan x="77.24" style="font-size:19.898px" textLength="42.14" lengthAdjust="spacingAndGlyphs">2009</tspan><tspan x="119.36" style="font-size:19.139px" textLength="6.31" lengthAdjust="spacingAndGlyphs">)</tspan></text>
<text transform="translate(0 677.38)"><tspan x="206.90" style="font-size:19.898px" textLength="10.55" lengthAdjust="spacingAndGlyphs"><tspan class="o">1</tspan></tspan><tspan x="217.45" style="font-size:19.139px" textLength="5.27" lengthAdjust="spacingAndGlyphs">/</tspan><tspan x="222.70" style="font-size:19.898px" textLength="21.08" lengthAdjust="spacingAndGlyphs">48</tspan></text>
<text transform="translate(0 677.38)"><tspan x="305.60" style="font-size:19.898px" textLength="10.55" lengthAdjust="spacingAndGlyphs">6</tspan><tspan x="316.13" style="font-size:19.139px" textLength="5.27" lengthAdjust="spacingAndGlyphs">/</tspan><tspan x="321.38" style="font-size:19.898px" textLength="21.08" lengthAdjust="spacingAndGlyphs">49</tspan></text>
<text transform="translate(0 677.38)"><tspan x="1115.50" style="font-size:19.898px" textLength="10.55" lengthAdjust="spacingAndGlyphs">0</tspan><tspan x="1126.03" style="font-size:19.139px" textLength="5.27" lengthAdjust="spacingAndGlyphs">.</tspan><tspan x="1131.30" style="font-size:19.898px" textLength="21.09" lengthAdjust="spacingAndGlyphs"><tspan class="o">1</tspan>7</tspan><tspan x="1152.38" style="font-size:19.139px" textLength="11.58" lengthAdjust="spacingAndGlyphs"> (</tspan><tspan x="1163.94" style="font-size:19.898px" textLength="10.55" lengthAdjust="spacingAndGlyphs">0</tspan><tspan x="1174.47" style="font-size:19.139px" textLength="5.28" lengthAdjust="spacingAndGlyphs">.</tspan><tspan x="1179.73" style="font-size:19.898px" textLength="21.08" lengthAdjust="spacingAndGlyphs">02</tspan><tspan x="1200.80" style="font-size:19.139px" textLength="10.53" lengthAdjust="spacingAndGlyphs">, </tspan><tspan x="1211.33" style="font-size:19.898px" textLength="10.55" lengthAdjust="spacingAndGlyphs"><tspan class="o">1</tspan></tspan><tspan x="1221.88" style="font-size:19.139px" textLength="5.27" lengthAdjust="spacingAndGlyphs">.</tspan><tspan x="1227.12" style="font-size:19.898px" textLength="21.08" lengthAdjust="spacingAndGlyphs">36</tspan><tspan x="1248.19" style="font-size:19.139px" textLength="6.33" lengthAdjust="spacingAndGlyphs">)</tspan></text>
<text transform="translate(0 677.38)"><tspan x="1304.70" style="font-size:19.898px" textLength="10.55" lengthAdjust="spacingAndGlyphs"><tspan class="o">1</tspan></tspan><tspan x="1315.25" style="font-size:19.139px" textLength="5.27" lengthAdjust="spacingAndGlyphs">.</tspan><tspan x="1320.51" style="font-size:19.898px" textLength="21.09" lengthAdjust="spacingAndGlyphs"><tspan class="o">1</tspan>9</tspan></text>
<text transform="translate(0 815.50)"><tspan x="18.30" style="font-size:19.898px" textLength="12.64" lengthAdjust="spacingAndGlyphs">B</tspan><tspan x="30.93" style="font-size:19.139px" textLength="68.42" lengthAdjust="spacingAndGlyphs">resson (</tspan><tspan x="99.33" style="font-size:19.898px" textLength="42.14" lengthAdjust="spacingAndGlyphs">2006</tspan><tspan x="141.46" style="font-size:19.139px" textLength="6.33" lengthAdjust="spacingAndGlyphs">)</tspan></text>
<text transform="translate(0 815.50)"><tspan x="206.90" style="font-size:19.898px" textLength="21.09" lengthAdjust="spacingAndGlyphs"><tspan class="o">1</tspan>6</tspan><tspan x="227.98" style="font-size:19.139px" textLength="5.27" lengthAdjust="spacingAndGlyphs">/</tspan><tspan x="233.23" style="font-size:19.898px" textLength="21.09" lengthAdjust="spacingAndGlyphs">5<tspan class="o">1</tspan></tspan></text>
<text transform="translate(0 815.50)"><tspan x="305.60" style="font-size:19.898px" textLength="21.09" lengthAdjust="spacingAndGlyphs"><tspan class="o">1</tspan>7</tspan><tspan x="326.68" style="font-size:19.139px" textLength="5.27" lengthAdjust="spacingAndGlyphs">/</tspan><tspan x="331.93" style="font-size:19.898px" textLength="21.08" lengthAdjust="spacingAndGlyphs">50</tspan></text>
<text transform="translate(0 815.50)"><tspan x="1115.50" style="font-size:19.898px" textLength="10.55" lengthAdjust="spacingAndGlyphs">0</tspan><tspan x="1126.03" style="font-size:19.139px" textLength="5.27" lengthAdjust="spacingAndGlyphs">.</tspan><tspan x="1131.28" style="font-size:19.898px" textLength="21.08" lengthAdjust="spacingAndGlyphs">92</tspan><tspan x="1152.34" style="font-size:19.139px" textLength="11.59" lengthAdjust="spacingAndGlyphs"> (</tspan><tspan x="1163.92" style="font-size:19.898px" textLength="10.55" lengthAdjust="spacingAndGlyphs">0</tspan><tspan x="1174.45" style="font-size:19.139px" textLength="5.28" lengthAdjust="spacingAndGlyphs">.</tspan><tspan x="1179.72" style="font-size:19.898px" textLength="21.08" lengthAdjust="spacingAndGlyphs">53</tspan><tspan x="1200.78" style="font-size:19.139px" textLength="10.53" lengthAdjust="spacingAndGlyphs">, </tspan><tspan x="1211.31" style="font-size:19.898px" textLength="10.55" lengthAdjust="spacingAndGlyphs"><tspan class="o">1</tspan></tspan><tspan x="1221.86" style="font-size:19.139px" textLength="5.27" lengthAdjust="spacingAndGlyphs">.</tspan><tspan x="1227.11" style="font-size:19.898px" textLength="21.08" lengthAdjust="spacingAndGlyphs">62</tspan><tspan x="1248.17" style="font-size:19.139px" textLength="6.33" lengthAdjust="spacingAndGlyphs">)</tspan></text>
<text transform="translate(0 815.50)"><tspan x="1304.70" style="font-size:19.898px" textLength="21.09" lengthAdjust="spacingAndGlyphs"><tspan class="o">1</tspan>6</tspan><tspan x="1325.78" style="font-size:19.139px" textLength="5.27" lengthAdjust="spacingAndGlyphs">.</tspan><tspan x="1331.03" style="font-size:19.898px" textLength="21.08" lengthAdjust="spacingAndGlyphs">44</tspan></text>
<text transform="translate(0 850.03)"><tspan x="18.30" style="font-size:19.898px" textLength="12.64" lengthAdjust="spacingAndGlyphs">K</tspan><tspan x="30.93" style="font-size:19.139px" textLength="46.33" lengthAdjust="spacingAndGlyphs">eitel (</tspan><tspan x="77.24" style="font-size:19.898px" textLength="42.14" lengthAdjust="spacingAndGlyphs">2008</tspan><tspan x="119.36" style="font-size:19.139px" textLength="6.31" lengthAdjust="spacingAndGlyphs">)</tspan></text>
<text transform="translate(0 850.03)"><tspan x="206.90" style="font-size:19.898px" textLength="21.09" lengthAdjust="spacingAndGlyphs"><tspan class="o">1</tspan>2</tspan><tspan x="227.98" style="font-size:19.139px" textLength="5.27" lengthAdjust="spacingAndGlyphs">/</tspan><tspan x="233.24" style="font-size:19.898px" textLength="31.62" lengthAdjust="spacingAndGlyphs"><tspan class="o">1</tspan>20</tspan></text>
<text transform="translate(0 850.03)"><tspan x="305.60" style="font-size:19.898px" textLength="21.09" lengthAdjust="spacingAndGlyphs"><tspan class="o">1</tspan>3</tspan><tspan x="326.68" style="font-size:19.139px" textLength="5.27" lengthAdjust="spacingAndGlyphs">/</tspan><tspan x="331.94" style="font-size:19.898px" textLength="31.64" lengthAdjust="spacingAndGlyphs"><tspan class="o">1</tspan><tspan class="o">1</tspan>9</tspan></text>
<text transform="translate(0 850.03)"><tspan x="1115.50" style="font-size:19.898px" textLength="10.55" lengthAdjust="spacingAndGlyphs">0</tspan><tspan x="1126.03" style="font-size:19.139px" textLength="5.27" lengthAdjust="spacingAndGlyphs">.</tspan><tspan x="1131.28" style="font-size:19.898px" textLength="21.08" lengthAdjust="spacingAndGlyphs">92</tspan><tspan x="1152.34" style="font-size:19.139px" textLength="11.59" lengthAdjust="spacingAndGlyphs"> (</tspan><tspan x="1163.92" style="font-size:19.898px" textLength="10.55" lengthAdjust="spacingAndGlyphs">0</tspan><tspan x="1174.45" style="font-size:19.139px" textLength="5.28" lengthAdjust="spacingAndGlyphs">.</tspan><tspan x="1179.72" style="font-size:19.898px" textLength="21.08" lengthAdjust="spacingAndGlyphs">44</tspan><tspan x="1200.78" style="font-size:19.139px" textLength="10.53" lengthAdjust="spacingAndGlyphs">, </tspan><tspan x="1211.31" style="font-size:19.898px" textLength="10.55" lengthAdjust="spacingAndGlyphs"><tspan class="o">1</tspan></tspan><tspan x="1221.86" style="font-size:19.139px" textLength="5.27" lengthAdjust="spacingAndGlyphs">.</tspan><tspan x="1227.11" style="font-size:19.898px" textLength="21.08" lengthAdjust="spacingAndGlyphs">92</tspan><tspan x="1248.17" style="font-size:19.139px" textLength="6.33" lengthAdjust="spacingAndGlyphs">)</tspan></text>
<text transform="translate(0 850.03)"><tspan x="1304.70" style="font-size:19.898px" textLength="10.55" lengthAdjust="spacingAndGlyphs">9</tspan><tspan x="1315.23" style="font-size:19.139px" textLength="5.27" lengthAdjust="spacingAndGlyphs">.</tspan><tspan x="1320.48" style="font-size:19.898px" textLength="21.08" lengthAdjust="spacingAndGlyphs">36</tspan></text>
<text transform="translate(0 884.56)"><tspan x="18.30" style="font-size:19.898px" textLength="13.69" lengthAdjust="spacingAndGlyphs">C</tspan><tspan x="31.97" style="font-size:19.139px" textLength="88.42" lengthAdjust="spacingAndGlyphs">hichester (</tspan><tspan x="120.38" style="font-size:19.898px" textLength="42.17" lengthAdjust="spacingAndGlyphs">20<tspan class="o">1</tspan>2</tspan><tspan x="162.53" style="font-size:19.139px" textLength="6.31" lengthAdjust="spacingAndGlyphs">)</tspan></text>
<text transform="translate(0 884.56)"><tspan x="206.90" style="font-size:19.898px" textLength="10.55" lengthAdjust="spacingAndGlyphs">0</tspan><tspan x="217.43" style="font-size:19.139px" textLength="5.27" lengthAdjust="spacingAndGlyphs">/</tspan><tspan x="222.68" style="font-size:19.898px" textLength="21.08" lengthAdjust="spacingAndGlyphs">20</tspan></text>
<text transform="translate(0 884.56)"><tspan x="305.60" style="font-size:19.898px" textLength="10.55" lengthAdjust="spacingAndGlyphs">2</tspan><tspan x="316.13" style="font-size:19.139px" textLength="5.27" lengthAdjust="spacingAndGlyphs">/</tspan><tspan x="321.38" style="font-size:19.898px" textLength="21.08" lengthAdjust="spacingAndGlyphs">20</tspan></text>
<text transform="translate(0 884.56)"><tspan x="1115.50" style="font-size:19.898px" textLength="10.55" lengthAdjust="spacingAndGlyphs">0</tspan><tspan x="1126.03" style="font-size:19.139px" textLength="5.27" lengthAdjust="spacingAndGlyphs">.</tspan><tspan x="1131.28" style="font-size:19.898px" textLength="21.08" lengthAdjust="spacingAndGlyphs">20</tspan><tspan x="1152.34" style="font-size:19.139px" textLength="11.59" lengthAdjust="spacingAndGlyphs"> (</tspan><tspan x="1163.92" style="font-size:19.898px" textLength="10.55" lengthAdjust="spacingAndGlyphs">0</tspan><tspan x="1174.45" style="font-size:19.139px" textLength="5.28" lengthAdjust="spacingAndGlyphs">.</tspan><tspan x="1179.72" style="font-size:19.898px" textLength="21.09" lengthAdjust="spacingAndGlyphs">0<tspan class="o">1</tspan></tspan><tspan x="1200.81" style="font-size:19.139px" textLength="10.53" lengthAdjust="spacingAndGlyphs">, </tspan><tspan x="1211.33" style="font-size:19.898px" textLength="10.55" lengthAdjust="spacingAndGlyphs">3</tspan><tspan x="1221.86" style="font-size:19.139px" textLength="5.28" lengthAdjust="spacingAndGlyphs">.</tspan><tspan x="1227.12" style="font-size:19.898px" textLength="21.08" lengthAdjust="spacingAndGlyphs">92</tspan><tspan x="1248.19" style="font-size:19.139px" textLength="6.31" lengthAdjust="spacingAndGlyphs">)</tspan></text>
<text transform="translate(0 884.56)"><tspan x="1304.70" style="font-size:19.898px" textLength="10.55" lengthAdjust="spacingAndGlyphs">0</tspan><tspan x="1315.23" style="font-size:19.139px" textLength="5.27" lengthAdjust="spacingAndGlyphs">.</tspan><tspan x="1320.48" style="font-size:19.898px" textLength="21.08" lengthAdjust="spacingAndGlyphs">58</tspan></text>
<text transform="translate(0 435.67)"><tspan x="18.30" style="font-size:19.898px" textLength="12.64" lengthAdjust="spacingAndGlyphs">S</tspan><tspan x="30.93" style="font-size:19.139px" textLength="73.70" lengthAdjust="spacingAndGlyphs">ubtotal  (</tspan><tspan x="104.61" style="font-size:19.898px" textLength="5.28" lengthAdjust="spacingAndGlyphs">I</tspan><tspan x="109.88" style="font-size:19.139px" textLength="96.33" lengthAdjust="spacingAndGlyphs">-squared = </tspan><tspan x="206.21" style="font-size:19.898px" textLength="21.09" lengthAdjust="spacingAndGlyphs"><tspan class="o">1</tspan>9</tspan><tspan x="227.28" style="font-size:19.139px" textLength="5.27" lengthAdjust="spacingAndGlyphs">.</tspan><tspan x="232.53" style="font-size:19.898px" textLength="27.39" lengthAdjust="spacingAndGlyphs">4%</tspan><tspan x="259.91" style="font-size:19.139px" textLength="42.66" lengthAdjust="spacingAndGlyphs">, p = </tspan><tspan x="302.55" style="font-size:19.898px" textLength="10.55" lengthAdjust="spacingAndGlyphs">0</tspan><tspan x="313.08" style="font-size:19.139px" textLength="5.28" lengthAdjust="spacingAndGlyphs">.</tspan><tspan x="318.35" style="font-size:19.898px" textLength="31.61" lengthAdjust="spacingAndGlyphs">276</tspan><tspan x="349.94" style="font-size:19.139px" textLength="6.31" lengthAdjust="spacingAndGlyphs">)</tspan></text>
<text transform="translate(0 435.67)"><tspan x="1115.50" style="font-size:19.898px" textLength="10.55" lengthAdjust="spacingAndGlyphs">0</tspan><tspan x="1126.03" style="font-size:19.139px" textLength="5.27" lengthAdjust="spacingAndGlyphs">.</tspan><tspan x="1131.28" style="font-size:19.898px" textLength="21.08" lengthAdjust="spacingAndGlyphs">64</tspan><tspan x="1152.34" style="font-size:19.139px" textLength="11.59" lengthAdjust="spacingAndGlyphs"> (</tspan><tspan x="1163.92" style="font-size:19.898px" textLength="10.55" lengthAdjust="spacingAndGlyphs">0</tspan><tspan x="1174.45" style="font-size:19.139px" textLength="5.28" lengthAdjust="spacingAndGlyphs">.</tspan><tspan x="1179.72" style="font-size:19.898px" textLength="21.08" lengthAdjust="spacingAndGlyphs">40</tspan><tspan x="1200.78" style="font-size:19.139px" textLength="10.53" lengthAdjust="spacingAndGlyphs">, </tspan><tspan x="1211.31" style="font-size:19.898px" textLength="10.55" lengthAdjust="spacingAndGlyphs"><tspan class="o">1</tspan></tspan><tspan x="1221.86" style="font-size:19.139px" textLength="5.27" lengthAdjust="spacingAndGlyphs">.</tspan><tspan x="1227.11" style="font-size:19.898px" textLength="21.08" lengthAdjust="spacingAndGlyphs">04</tspan><tspan x="1248.17" style="font-size:19.139px" textLength="6.33" lengthAdjust="spacingAndGlyphs">)</tspan></text>
<text transform="translate(0 435.67)"><tspan x="1304.70" style="font-size:19.898px" textLength="21.08" lengthAdjust="spacingAndGlyphs">40</tspan><tspan x="1325.76" style="font-size:19.139px" textLength="5.27" lengthAdjust="spacingAndGlyphs">.</tspan><tspan x="1331.01" style="font-size:19.898px" textLength="21.08" lengthAdjust="spacingAndGlyphs">32</tspan></text>
<text transform="translate(0 711.91)"><tspan x="18.30" style="font-size:19.898px" textLength="12.64" lengthAdjust="spacingAndGlyphs">S</tspan><tspan x="30.93" style="font-size:19.139px" textLength="73.70" lengthAdjust="spacingAndGlyphs">ubtotal  (</tspan><tspan x="104.61" style="font-size:19.898px" textLength="5.28" lengthAdjust="spacingAndGlyphs">I</tspan><tspan x="109.88" style="font-size:19.139px" textLength="96.33" lengthAdjust="spacingAndGlyphs">-squared = </tspan><tspan x="206.19" style="font-size:19.898px" textLength="10.55" lengthAdjust="spacingAndGlyphs">0</tspan><tspan x="216.72" style="font-size:19.139px" textLength="5.28" lengthAdjust="spacingAndGlyphs">.</tspan><tspan x="221.99" style="font-size:19.898px" textLength="27.39" lengthAdjust="spacingAndGlyphs">0%</tspan><tspan x="249.36" style="font-size:19.139px" textLength="42.66" lengthAdjust="spacingAndGlyphs">, p = </tspan><tspan x="292.00" style="font-size:19.898px" textLength="10.55" lengthAdjust="spacingAndGlyphs">0</tspan><tspan x="302.53" style="font-size:19.139px" textLength="5.27" lengthAdjust="spacingAndGlyphs">.</tspan><tspan x="307.78" style="font-size:19.898px" textLength="31.62" lengthAdjust="spacingAndGlyphs">724</tspan><tspan x="339.39" style="font-size:19.139px" textLength="6.31" lengthAdjust="spacingAndGlyphs">)</tspan></text>
<text transform="translate(0 711.91)"><tspan x="1115.50" style="font-size:19.898px" textLength="10.55" lengthAdjust="spacingAndGlyphs">0</tspan><tspan x="1126.03" style="font-size:19.139px" textLength="5.27" lengthAdjust="spacingAndGlyphs">.</tspan><tspan x="1131.28" style="font-size:19.898px" textLength="21.08" lengthAdjust="spacingAndGlyphs">52</tspan><tspan x="1152.34" style="font-size:19.139px" textLength="11.59" lengthAdjust="spacingAndGlyphs"> (</tspan><tspan x="1163.92" style="font-size:19.898px" textLength="10.55" lengthAdjust="spacingAndGlyphs">0</tspan><tspan x="1174.45" style="font-size:19.139px" textLength="5.28" lengthAdjust="spacingAndGlyphs">.</tspan><tspan x="1179.72" style="font-size:19.898px" textLength="21.08" lengthAdjust="spacingAndGlyphs">35</tspan><tspan x="1200.78" style="font-size:19.139px" textLength="10.53" lengthAdjust="spacingAndGlyphs">, </tspan><tspan x="1211.30" style="font-size:19.898px" textLength="10.55" lengthAdjust="spacingAndGlyphs">0</tspan><tspan x="1221.83" style="font-size:19.139px" textLength="5.28" lengthAdjust="spacingAndGlyphs">.</tspan><tspan x="1227.09" style="font-size:19.898px" textLength="21.08" lengthAdjust="spacingAndGlyphs">77</tspan><tspan x="1248.16" style="font-size:19.139px" textLength="6.33" lengthAdjust="spacingAndGlyphs">)</tspan></text>
<text transform="translate(0 711.91)"><tspan x="1304.70" style="font-size:19.898px" textLength="21.08" lengthAdjust="spacingAndGlyphs">33</tspan><tspan x="1325.76" style="font-size:19.139px" textLength="5.27" lengthAdjust="spacingAndGlyphs">.</tspan><tspan x="1331.01" style="font-size:19.898px" textLength="21.08" lengthAdjust="spacingAndGlyphs">29</tspan></text>
<text transform="translate(0 919.09)"><tspan x="18.30" style="font-size:19.898px" textLength="12.64" lengthAdjust="spacingAndGlyphs">S</tspan><tspan x="30.93" style="font-size:19.139px" textLength="73.70" lengthAdjust="spacingAndGlyphs">ubtotal  (</tspan><tspan x="104.61" style="font-size:19.898px" textLength="5.28" lengthAdjust="spacingAndGlyphs">I</tspan><tspan x="109.88" style="font-size:19.139px" textLength="96.33" lengthAdjust="spacingAndGlyphs">-squared = </tspan><tspan x="206.19" style="font-size:19.898px" textLength="10.55" lengthAdjust="spacingAndGlyphs">0</tspan><tspan x="216.72" style="font-size:19.139px" textLength="5.28" lengthAdjust="spacingAndGlyphs">.</tspan><tspan x="221.99" style="font-size:19.898px" textLength="27.39" lengthAdjust="spacingAndGlyphs">0%</tspan><tspan x="249.36" style="font-size:19.139px" textLength="42.66" lengthAdjust="spacingAndGlyphs">, p = </tspan><tspan x="292.00" style="font-size:19.898px" textLength="10.55" lengthAdjust="spacingAndGlyphs">0</tspan><tspan x="302.53" style="font-size:19.139px" textLength="5.27" lengthAdjust="spacingAndGlyphs">.</tspan><tspan x="307.78" style="font-size:19.898px" textLength="31.62" lengthAdjust="spacingAndGlyphs">605</tspan><tspan x="339.39" style="font-size:19.139px" textLength="6.31" lengthAdjust="spacingAndGlyphs">)</tspan></text>
<text transform="translate(0 919.09)"><tspan x="1115.50" style="font-size:19.898px" textLength="10.55" lengthAdjust="spacingAndGlyphs">0</tspan><tspan x="1126.03" style="font-size:19.139px" textLength="5.27" lengthAdjust="spacingAndGlyphs">.</tspan><tspan x="1131.28" style="font-size:19.898px" textLength="21.08" lengthAdjust="spacingAndGlyphs">89</tspan><tspan x="1152.34" style="font-size:19.139px" textLength="11.59" lengthAdjust="spacingAndGlyphs"> (</tspan><tspan x="1163.92" style="font-size:19.898px" textLength="10.55" lengthAdjust="spacingAndGlyphs">0</tspan><tspan x="1174.45" style="font-size:19.139px" textLength="5.28" lengthAdjust="spacingAndGlyphs">.</tspan><tspan x="1179.72" style="font-size:19.898px" textLength="21.08" lengthAdjust="spacingAndGlyphs">57</tspan><tspan x="1200.78" style="font-size:19.139px" textLength="10.53" lengthAdjust="spacingAndGlyphs">, </tspan><tspan x="1211.31" style="font-size:19.898px" textLength="10.55" lengthAdjust="spacingAndGlyphs"><tspan class="o">1</tspan></tspan><tspan x="1221.86" style="font-size:19.139px" textLength="5.27" lengthAdjust="spacingAndGlyphs">.</tspan><tspan x="1227.11" style="font-size:19.898px" textLength="21.08" lengthAdjust="spacingAndGlyphs">38</tspan><tspan x="1248.17" style="font-size:19.139px" textLength="6.33" lengthAdjust="spacingAndGlyphs">)</tspan></text>
<text transform="translate(0 919.09)"><tspan x="1304.70" style="font-size:19.898px" textLength="21.08" lengthAdjust="spacingAndGlyphs">26</tspan><tspan x="1325.76" style="font-size:19.139px" textLength="5.27" lengthAdjust="spacingAndGlyphs">.</tspan><tspan x="1331.01" style="font-size:19.898px" textLength="21.08" lengthAdjust="spacingAndGlyphs">39</tspan></text>
<text transform="translate(0 988.15)"><tspan x="18.30" style="font-size:19.898px" textLength="14.73" lengthAdjust="spacingAndGlyphs">O</tspan><tspan x="33.02" style="font-size:19.139px" textLength="62.11" lengthAdjust="spacingAndGlyphs">verall  (</tspan><tspan x="95.11" style="font-size:19.898px" textLength="5.27" lengthAdjust="spacingAndGlyphs">I</tspan><tspan x="100.36" style="font-size:19.139px" textLength="96.34" lengthAdjust="spacingAndGlyphs">-squared = </tspan><tspan x="196.69" style="font-size:19.898px" textLength="10.55" lengthAdjust="spacingAndGlyphs">0</tspan><tspan x="207.22" style="font-size:19.139px" textLength="5.28" lengthAdjust="spacingAndGlyphs">.</tspan><tspan x="212.49" style="font-size:19.898px" textLength="27.39" lengthAdjust="spacingAndGlyphs">0%</tspan><tspan x="239.86" style="font-size:19.139px" textLength="42.64" lengthAdjust="spacingAndGlyphs">, p = </tspan><tspan x="282.49" style="font-size:19.898px" textLength="10.55" lengthAdjust="spacingAndGlyphs">0</tspan><tspan x="293.02" style="font-size:19.139px" textLength="5.28" lengthAdjust="spacingAndGlyphs">.</tspan><tspan x="298.28" style="font-size:19.898px" textLength="31.61" lengthAdjust="spacingAndGlyphs">457</tspan><tspan x="329.88" style="font-size:19.139px" textLength="6.33" lengthAdjust="spacingAndGlyphs">)</tspan></text>
<text transform="translate(0 988.15)"><tspan x="1115.50" style="font-size:19.898px" textLength="10.55" lengthAdjust="spacingAndGlyphs">0</tspan><tspan x="1126.03" style="font-size:19.139px" textLength="5.27" lengthAdjust="spacingAndGlyphs">.</tspan><tspan x="1131.28" style="font-size:19.898px" textLength="21.08" lengthAdjust="spacingAndGlyphs">66</tspan><tspan x="1152.34" style="font-size:19.139px" textLength="11.59" lengthAdjust="spacingAndGlyphs"> (</tspan><tspan x="1163.92" style="font-size:19.898px" textLength="10.55" lengthAdjust="spacingAndGlyphs">0</tspan><tspan x="1174.45" style="font-size:19.139px" textLength="5.28" lengthAdjust="spacingAndGlyphs">.</tspan><tspan x="1179.72" style="font-size:19.898px" textLength="21.08" lengthAdjust="spacingAndGlyphs">53</tspan><tspan x="1200.78" style="font-size:19.139px" textLength="10.53" lengthAdjust="spacingAndGlyphs">, </tspan><tspan x="1211.30" style="font-size:19.898px" textLength="10.55" lengthAdjust="spacingAndGlyphs">0</tspan><tspan x="1221.83" style="font-size:19.139px" textLength="5.28" lengthAdjust="spacingAndGlyphs">.</tspan><tspan x="1227.09" style="font-size:19.898px" textLength="21.08" lengthAdjust="spacingAndGlyphs">83</tspan><tspan x="1248.16" style="font-size:19.139px" textLength="6.33" lengthAdjust="spacingAndGlyphs">)</tspan></text>
<text transform="translate(0 988.15)"><tspan x="1304.70" style="font-size:19.898px" textLength="31.62" lengthAdjust="spacingAndGlyphs"><tspan class="o">1</tspan>00</tspan><tspan x="1336.31" style="font-size:19.139px" textLength="5.27" lengthAdjust="spacingAndGlyphs">.</tspan><tspan x="1341.56" style="font-size:19.898px" textLength="21.08" lengthAdjust="spacingAndGlyphs">00</tspan></text>
<text transform="translate(0 1040.00)"><tspan x="18.30" style="font-size:19.898px" textLength="52.61" lengthAdjust="spacingAndGlyphs">NOTE</tspan><tspan x="70.89" style="font-size:19.139px" textLength="10.55" lengthAdjust="spacingAndGlyphs">: </tspan><tspan x="81.42" style="font-size:19.898px" textLength="17.89" lengthAdjust="spacingAndGlyphs">W</tspan><tspan x="99.30" style="font-size:19.139px" textLength="330.52" lengthAdjust="spacingAndGlyphs">eights are from random effects analysis</tspan></text>
<text transform="translate(0 1089.60)"><tspan x="373.80" style="font-size:19.139px" textLength="5.27" lengthAdjust="spacingAndGlyphs">.</tspan><tspan x="379.05" style="font-size:19.898px" textLength="42.14" lengthAdjust="spacingAndGlyphs">0059</tspan></text>
<text transform="translate(0 1089.60)"><tspan x="742.23" style="font-size:19.898px" textLength="10.55" lengthAdjust="spacingAndGlyphs"><tspan class="o">1</tspan></tspan></text>
<text transform="translate(0 1089.60)"><tspan x="1081.69" style="font-size:19.898px" textLength="31.62" lengthAdjust="spacingAndGlyphs"><tspan class="o">1</tspan>69</tspan></text>
<g fill="#000"><path transform="translate(70.90 19.70) scale(0.012769 -0.013407)" d="M763 0H583V1102C540 1063 483 1023 413 984C343 945 280 916 223 897V1064C324 1110 412 1165 488 1229C564 1293 618 1353 650 1409H763Z"/><path transform="translate(18.30 504.73) scale(0.009253 -0.009716)" d="M763 0H583V1102C540 1063 483 1023 413 984C343 945 280 916 223 897V1064C324 1110 412 1165 488 1229C564 1293 618 1353 650 1409H763Z"/><path transform="translate(305.60 159.43) scale(0.009253 -0.009716)" d="M763 0H583V1102C540 1063 483 1023 413 984C343 945 280 916 223 897V1064C324 1110 412 1165 488 1229C564 1293 618 1353 650 1409H763Z"/><path transform="translate(1141.83 159.43) scale(0.009253 -0.009716)" d="M763 0H583V1102C540 1063 483 1023 413 984C343 945 280 916 223 897V1064C324 1110 412 1165 488 1229C564 1293 618 1353 650 1409H763Z"/><path transform="translate(206.90 193.96) scale(0.009253 -0.009716)" d="M763 0H583V1102C540 1063 483 1023 413 984C343 945 280 916 223 897V1064C324 1110 412 1165 488 1229C564 1293 618 1353 650 1409H763Z"/><path transform="translate(1211.31 193.96) scale(0.009253 -0.009716)" d="M763 0H583V1102C540 1063 483 1023 413 984C343 945 280 916 223 897V1064C324 1110 412 1165 488 1229C564 1293 618 1353 650 1409H763Z"/><path transform="translate(1304.70 193.96) scale(0.009253 -0.009716)" d="M763 0H583V1102C540 1063 483 1023 413 984C343 945 280 916 223 897V1064C324 1110 412 1165 488 1229C564 1293 618 1353 650 1409H763Z"/><path transform="translate(233.23 228.49) scale(0.009253 -0.009716)" d="M763 0H583V1102C540 1063 483 1023 413 984C343 945 280 916 223 897V1064C324 1110 412 1165 488 1229C564 1293 618 1353 650 1409H763Z"/><path transform="translate(305.60 228.49) scale(0.009253 -0.009716)" d="M763 0H583V1102C540 1063 483 1023 413 984C343 945 280 916 223 897V1064C324 1110 412 1165 488 1229C564 1293 618 1353 650 1409H763Z"/><path transform="translate(1115.50 228.49) scale(0.009253 -0.009716)" d="M763 0H583V1102C540 1063 483 1023 413 984C343 945 280 916 223 897V1064C324 1110 412 1165 488 1229C564 1293 618 1353 650 1409H763Z"/><path transform="translate(1179.73 228.49) scale(0.009253 -0.009716)" d="M763 0H583V1102C540 1063 483 1023 413 984C343 945 280 916 223 897V1064C324 1110 412 1165 488 1229C564 1293 618 1353 650 1409H763Z"/><path transform="translate(305.60 263.02) scale(0.009253 -0.009716)" d="M763 0H583V1102C540 1063 483 1023 413 984C343 945 280 916 223 897V1064C324 1110 412 1165 488 1229C564 1293 618 1353 650 1409H763Z"/><path transform="translate(1190.27 263.02) scale(0.009253 -0.009716)" d="M763 0H583V1102C540 1063 483 1023 413 984C343 945 280 916 223 897V1064C324 1110 412 1165 488 1229C564 1293 618 1353 650 1409H763Z"/><path transform="translate(1331.03 263.02) scale(0.009253 -0.009716)" d="M763 0H583V1102C540 1063 483 1023 413 984C343 945 280 916 223 897V1064C324 1110 412 1165 488 1229C564 1293 618 1353 650 1409H763Z"/><path transform="translate(206.90 297.55) scale(0.009253 -0.009716)" d="M763 0H583V1102C540 1063 483 1023 413 984C343 945 280 916 223 897V1064C324 1110 412 1165 488 1229C564 1293 618 1353 650 1409H763Z"/><path transform="translate(316.15 297.55) scale(0.009253 -0.009716)" d="M763 0H583V1102C540 1063 483 1023 413 984C343 945 280 916 223 897V1064C324 1110 412 1165 488 1229C564 1293 618 1353 650 1409H763Z"/><path transform="translate(1211.31 297.55) scale(0.009253 -0.009716)" d="M763 0H583V1102C540 1063 483 1023 413 984C343 945 280 916 223 897V1064C324 1110 412 1165 488 1229C564 1293 618 1353 650 1409H763Z"/><path transform="translate(1304.70 297.55) scale(0.009253 -0.009716)" d="M763 0H583V1102C540 1063 483 1023 413 984C343 945 280 916 223 897V1064C324 1110 412 1165 488 1229C564 1293 618 1353 650 1409H763Z"/><path transform="translate(1341.58 297.55) scale(0.009253 -0.009716)" d="M763 0H583V1102C540 1063 483 1023 413 984C343 945 280 916 223 897V1064C324 1110 412 1165 488 1229C564 1293 618 1353 650 1409H763Z"/><path transform="translate(1131.30 332.08) scale(0.009253 -0.009716)" d="M763 0H583V1102C540 1063 483 1023 413 984C343 945 280 916 223 897V1064C324 1110 412 1165 488 1229C564 1293 618 1353 650 1409H763Z"/><path transform="translate(1141.84 332.08) scale(0.009253 -0.009716)" d="M763 0H583V1102C540 1063 483 1023 413 984C343 945 280 916 223 897V1064C324 1110 412 1165 488 1229C564 1293 618 1353 650 1409H763Z"/><path transform="translate(1190.30 332.08) scale(0.009253 -0.009716)" d="M763 0H583V1102C540 1063 483 1023 413 984C343 945 280 916 223 897V1064C324 1110 412 1165 488 1229C564 1293 618 1353 650 1409H763Z"/><path transform="translate(1211.38 332.08) scale(0.009253 -0.009716)" d="M763 0H583V1102C540 1063 483 1023 413 984C343 945 280 916 223 897V1064C324 1110 412 1165 488 1229C564 1293 618 1353 650 1409H763Z"/><path transform="translate(84.63 366.61) scale(0.009253 -0.009716)" d="M763 0H583V1102C540 1063 483 1023 413 984C343 945 280 916 223 897V1064C324 1110 412 1165 488 1229C564 1293 618 1353 650 1409H763Z"/><path transform="translate(206.90 366.61) scale(0.009253 -0.009716)" d="M763 0H583V1102C540 1063 483 1023 413 984C343 945 280 916 223 897V1064C324 1110 412 1165 488 1229C564 1293 618 1353 650 1409H763Z"/><path transform="translate(222.71 366.61) scale(0.009253 -0.009716)" d="M763 0H583V1102C540 1063 483 1023 413 984C343 945 280 916 223 897V1064C324 1110 412 1165 488 1229C564 1293 618 1353 650 1409H763Z"/><path transform="translate(321.40 366.61) scale(0.009253 -0.009716)" d="M763 0H583V1102C540 1063 483 1023 413 984C343 945 280 916 223 897V1064C324 1110 412 1165 488 1229C564 1293 618 1353 650 1409H763Z"/><path transform="translate(1179.73 366.61) scale(0.009253 -0.009716)" d="M763 0H583V1102C540 1063 483 1023 413 984C343 945 280 916 223 897V1064C324 1110 412 1165 488 1229C564 1293 618 1353 650 1409H763Z"/><path transform="translate(89.89 401.14) scale(0.009253 -0.009716)" d="M763 0H583V1102C540 1063 483 1023 413 984C343 945 280 916 223 897V1064C324 1110 412 1165 488 1229C564 1293 618 1353 650 1409H763Z"/><path transform="translate(222.70 401.14) scale(0.009253 -0.009716)" d="M763 0H583V1102C540 1063 483 1023 413 984C343 945 280 916 223 897V1064C324 1110 412 1165 488 1229C564 1293 618 1353 650 1409H763Z"/><path transform="translate(305.60 401.14) scale(0.009253 -0.009716)" d="M763 0H583V1102C540 1063 483 1023 413 984C343 945 280 916 223 897V1064C324 1110 412 1165 488 1229C564 1293 618 1353 650 1409H763Z"/><path transform="translate(321.41 401.14) scale(0.009253 -0.009716)" d="M763 0H583V1102C540 1063 483 1023 413 984C343 945 280 916 223 897V1064C324 1110 412 1165 488 1229C564 1293 618 1353 650 1409H763Z"/><path transform="translate(1141.83 401.14) scale(0.009253 -0.009716)" d="M763 0H583V1102C540 1063 483 1023 413 984C343 945 280 916 223 897V1064C324 1110 412 1165 488 1229C564 1293 618 1353 650 1409H763Z"/><path transform="translate(305.60 539.26) scale(0.009253 -0.009716)" d="M763 0H583V1102C540 1063 483 1023 413 984C343 945 280 916 223 897V1064C324 1110 412 1165 488 1229C564 1293 618 1353 650 1409H763Z"/><path transform="translate(1179.73 539.26) scale(0.009253 -0.009716)" d="M763 0H583V1102C540 1063 483 1023 413 984C343 945 280 916 223 897V1064C324 1110 412 1165 488 1229C564 1293 618 1353 650 1409H763Z"/><path transform="translate(1211.34 539.26) scale(0.009253 -0.009716)" d="M763 0H583V1102C540 1063 483 1023 413 984C343 945 280 916 223 897V1064C324 1110 412 1165 488 1229C564 1293 618 1353 650 1409H763Z"/><path transform="translate(1227.16 539.26) scale(0.009253 -0.009716)" d="M763 0H583V1102C540 1063 483 1023 413 984C343 945 280 916 223 897V1064C324 1110 412 1165 488 1229C564 1293 618 1353 650 1409H763Z"/><path transform="translate(305.60 573.79) scale(0.009253 -0.009716)" d="M763 0H583V1102C540 1063 483 1023 413 984C343 945 280 916 223 897V1064C324 1110 412 1165 488 1229C564 1293 618 1353 650 1409H763Z"/><path transform="translate(316.15 573.79) scale(0.009253 -0.009716)" d="M763 0H583V1102C540 1063 483 1023 413 984C343 945 280 916 223 897V1064C324 1110 412 1165 488 1229C564 1293 618 1353 650 1409H763Z"/><path transform="translate(1211.31 573.79) scale(0.009253 -0.009716)" d="M763 0H583V1102C540 1063 483 1023 413 984C343 945 280 916 223 897V1064C324 1110 412 1165 488 1229C564 1293 618 1353 650 1409H763Z"/><path transform="translate(206.90 608.32) scale(0.009253 -0.009716)" d="M763 0H583V1102C540 1063 483 1023 413 984C343 945 280 916 223 897V1064C324 1110 412 1165 488 1229C564 1293 618 1353 650 1409H763Z"/><path transform="translate(233.24 608.32) scale(0.009253 -0.009716)" d="M763 0H583V1102C540 1063 483 1023 413 984C343 945 280 916 223 897V1064C324 1110 412 1165 488 1229C564 1293 618 1353 650 1409H763Z"/><path transform="translate(1304.70 608.32) scale(0.009253 -0.009716)" d="M763 0H583V1102C540 1063 483 1023 413 984C343 945 280 916 223 897V1064C324 1110 412 1165 488 1229C564 1293 618 1353 650 1409H763Z"/><path transform="translate(1320.51 608.32) scale(0.009253 -0.009716)" d="M763 0H583V1102C540 1063 483 1023 413 984C343 945 280 916 223 897V1064C324 1110 412 1165 488 1229C564 1293 618 1353 650 1409H763Z"/><path transform="translate(206.90 642.85) scale(0.009253 -0.009716)" d="M763 0H583V1102C540 1063 483 1023 413 984C343 945 280 916 223 897V1064C324 1110 412 1165 488 1229C564 1293 618 1353 650 1409H763Z"/><path transform="translate(233.24 642.85) scale(0.009253 -0.009716)" d="M763 0H583V1102C540 1063 483 1023 413 984C343 945 280 916 223 897V1064C324 1110 412 1165 488 1229C564 1293 618 1353 650 1409H763Z"/><path transform="translate(331.93 642.85) scale(0.009253 -0.009716)" d="M763 0H583V1102C540 1063 483 1023 413 984C343 945 280 916 223 897V1064C324 1110 412 1165 488 1229C564 1293 618 1353 650 1409H763Z"/><path transform="translate(1141.83 642.85) scale(0.009253 -0.009716)" d="M763 0H583V1102C540 1063 483 1023 413 984C343 945 280 916 223 897V1064C324 1110 412 1165 488 1229C564 1293 618 1353 650 1409H763Z"/><path transform="translate(1211.33 642.85) scale(0.009253 -0.009716)" d="M763 0H583V1102C540 1063 483 1023 413 984C343 945 280 916 223 897V1064C324 1110 412 1165 488 1229C564 1293 618 1353 650 1409H763Z"/><path transform="translate(1304.70 642.85) scale(0.009253 -0.009716)" d="M763 0H583V1102C540 1063 483 1023 413 984C343 945 280 916 223 897V1064C324 1110 412 1165 488 1229C564 1293 618 1353 650 1409H763Z"/><path transform="translate(206.90 677.38) scale(0.009253 -0.009716)" d="M763 0H583V1102C540 1063 483 1023 413 984C343 945 280 916 223 897V1064C324 1110 412 1165 488 1229C564 1293 618 1353 650 1409H763Z"/><path transform="translate(1131.30 677.38) scale(0.009253 -0.009716)" d="M763 0H583V1102C540 1063 483 1023 413 984C343 945 280 916 223 897V1064C324 1110 412 1165 488 1229C564 1293 618 1353 650 1409H763Z"/><path transform="translate(1211.33 677.38) scale(0.009253 -0.009716)" d="M763 0H583V1102C540 1063 483 1023 413 984C343 945 280 916 223 897V1064C324 1110 412 1165 488 1229C564 1293 618 1353 650 1409H763Z"/><path transform="translate(1304.70 677.38) scale(0.009253 -0.009716)" d="M763 0H583V1102C540 1063 483 1023 413 984C343 945 280 916 223 897V1064C324 1110 412 1165 488 1229C564 1293 618 1353 650 1409H763Z"/><path transform="translate(1320.51 677.38) scale(0.009253 -0.009716)" d="M763 0H583V1102C540 1063 483 1023 413 984C343 945 280 916 223 897V1064C324 1110 412 1165 488 1229C564 1293 618 1353 650 1409H763Z"/><path transform="translate(206.90 815.50) scale(0.009253 -0.009716)" d="M763 0H583V1102C540 1063 483 1023 413 984C343 945 280 916 223 897V1064C324 1110 412 1165 488 1229C564 1293 618 1353 650 1409H763Z"/><path transform="translate(243.78 815.50) scale(0.009253 -0.009716)" d="M763 0H583V1102C540 1063 483 1023 413 984C343 945 280 916 223 897V1064C324 1110 412 1165 488 1229C564 1293 618 1353 650 1409H763Z"/><path transform="translate(305.60 815.50) scale(0.009253 -0.009716)" d="M763 0H583V1102C540 1063 483 1023 413 984C343 945 280 916 223 897V1064C324 1110 412 1165 488 1229C564 1293 618 1353 650 1409H763Z"/><path transform="translate(1211.31 815.50) scale(0.009253 -0.009716)" d="M763 0H583V1102C540 1063 483 1023 413 984C343 945 280 916 223 897V1064C324 1110 412 1165 488 1229C564 1293 618 1353 650 1409H763Z"/><path transform="translate(1304.70 815.50) scale(0.009253 -0.009716)" d="M763 0H583V1102C540 1063 483 1023 413 984C343 945 280 916 223 897V1064C324 1110 412 1165 488 1229C564 1293 618 1353 650 1409H763Z"/><path transform="translate(206.90 850.03) scale(0.009253 -0.009716)" d="M763 0H583V1102C540 1063 483 1023 413 984C343 945 280 916 223 897V1064C324 1110 412 1165 488 1229C564 1293 618 1353 650 1409H763Z"/><path transform="translate(233.24 850.03) scale(0.009253 -0.009716)" d="M763 0H583V1102C540 1063 483 1023 413 984C343 945 280 916 223 897V1064C324 1110 412 1165 488 1229C564 1293 618 1353 650 1409H763Z"/><path transform="translate(305.60 850.03) scale(0.009253 -0.009716)" d="M763 0H583V1102C540 1063 483 1023 413 984C343 945 280 916 223 897V1064C324 1110 412 1165 488 1229C564 1293 618 1353 650 1409H763Z"/><path transform="translate(331.94 850.03) scale(0.009253 -0.009716)" d="M763 0H583V1102C540 1063 483 1023 413 984C343 945 280 916 223 897V1064C324 1110 412 1165 488 1229C564 1293 618 1353 650 1409H763Z"/><path transform="translate(342.49 850.03) scale(0.009253 -0.009716)" d="M763 0H583V1102C540 1063 483 1023 413 984C343 945 280 916 223 897V1064C324 1110 412 1165 488 1229C564 1293 618 1353 650 1409H763Z"/><path transform="translate(1211.31 850.03) scale(0.009253 -0.009716)" d="M763 0H583V1102C540 1063 483 1023 413 984C343 945 280 916 223 897V1064C324 1110 412 1165 488 1229C564 1293 618 1353 650 1409H763Z"/><path transform="translate(141.46 884.56) scale(0.009253 -0.009716)" d="M763 0H583V1102C540 1063 483 1023 413 984C343 945 280 916 223 897V1064C324 1110 412 1165 488 1229C564 1293 618 1353 650 1409H763Z"/><path transform="translate(1190.27 884.56) scale(0.009253 -0.009716)" d="M763 0H583V1102C540 1063 483 1023 413 984C343 945 280 916 223 897V1064C324 1110 412 1165 488 1229C564 1293 618 1353 650 1409H763Z"/><path transform="translate(206.21 435.67) scale(0.009253 -0.009716)" d="M763 0H583V1102C540 1063 483 1023 413 984C343 945 280 916 223 897V1064C324 1110 412 1165 488 1229C564 1293 618 1353 650 1409H763Z"/><path transform="translate(1211.31 435.67) scale(0.009253 -0.009716)" d="M763 0H583V1102C540 1063 483 1023 413 984C343 945 280 916 223 897V1064C324 1110 412 1165 488 1229C564 1293 618 1353 650 1409H763Z"/><path transform="translate(1211.31 919.09) scale(0.009253 -0.009716)" d="M763 0H583V1102C540 1063 483 1023 413 984C343 945 280 916 223 897V1064C324 1110 412 1165 488 1229C564 1293 618 1353 650 1409H763Z"/><path transform="translate(1304.70 988.15) scale(0.009253 -0.009716)" d="M763 0H583V1102C540 1063 483 1023 413 984C343 945 280 916 223 897V1064C324 1110 412 1165 488 1229C564 1293 618 1353 650 1409H763Z"/><path transform="translate(742.23 1089.60) scale(0.009253 -0.009716)" d="M763 0H583V1102C540 1063 483 1023 413 984C343 945 280 916 223 897V1064C324 1110 412 1165 488 1229C564 1293 618 1353 650 1409H763Z"/><path transform="translate(1081.69 1089.60) scale(0.009253 -0.009716)" d="M763 0H583V1102C540 1063 483 1023 413 984C343 945 280 916 223 897V1064C324 1110 412 1165 488 1229C564 1293 618 1353 650 1409H763Z"/></g>
</svg>
</body></html>
